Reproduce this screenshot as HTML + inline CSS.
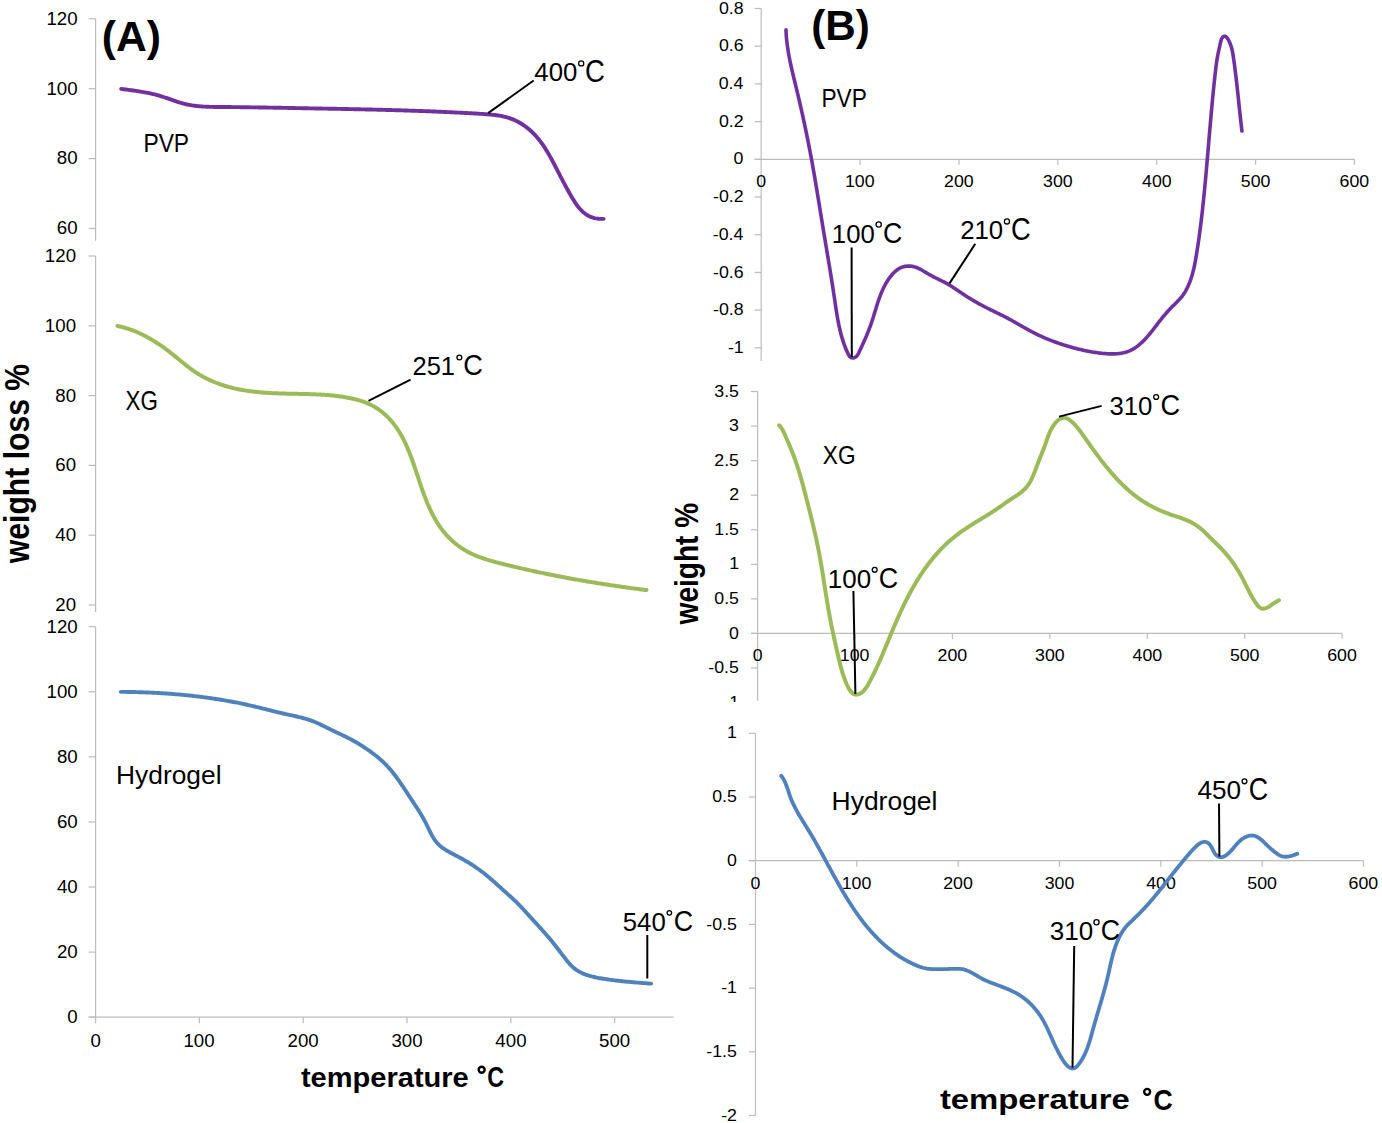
<!DOCTYPE html>
<html><head><meta charset="utf-8"><style>
html,body{margin:0;padding:0;background:#fff;width:1382px;height:1123px;overflow:hidden}
svg{display:block;font-family:"Liberation Sans",sans-serif}
</style></head><body>
<svg width="1382" height="1123" viewBox="0 0 1382 1123">
<defs><clipPath id="clipm1"><rect x="600" y="690" width="200" height="12"/></clipPath></defs>
<rect width="1382" height="1123" fill="#fff"/>
<line x1="95.60" y1="18.80" x2="95.60" y2="240.70" stroke="#BCBCBC" stroke-width="1.20"/>
<line x1="88.60" y1="18.80" x2="95.60" y2="18.80" stroke="#BCBCBC" stroke-width="1.20"/>
<line x1="88.60" y1="88.70" x2="95.60" y2="88.70" stroke="#BCBCBC" stroke-width="1.20"/>
<line x1="88.60" y1="158.60" x2="95.60" y2="158.60" stroke="#BCBCBC" stroke-width="1.20"/>
<line x1="88.60" y1="228.50" x2="95.60" y2="228.50" stroke="#BCBCBC" stroke-width="1.20"/>
<line x1="95.60" y1="256.00" x2="95.60" y2="612.00" stroke="#BCBCBC" stroke-width="1.20"/>
<line x1="88.60" y1="256.00" x2="95.60" y2="256.00" stroke="#BCBCBC" stroke-width="1.20"/>
<line x1="88.60" y1="325.80" x2="95.60" y2="325.80" stroke="#BCBCBC" stroke-width="1.20"/>
<line x1="88.60" y1="395.60" x2="95.60" y2="395.60" stroke="#BCBCBC" stroke-width="1.20"/>
<line x1="88.60" y1="465.40" x2="95.60" y2="465.40" stroke="#BCBCBC" stroke-width="1.20"/>
<line x1="88.60" y1="535.20" x2="95.60" y2="535.20" stroke="#BCBCBC" stroke-width="1.20"/>
<line x1="88.60" y1="605.00" x2="95.60" y2="605.00" stroke="#BCBCBC" stroke-width="1.20"/>
<line x1="95.60" y1="626.70" x2="95.60" y2="1017.20" stroke="#BCBCBC" stroke-width="1.20"/>
<line x1="88.60" y1="626.70" x2="95.60" y2="626.70" stroke="#BCBCBC" stroke-width="1.20"/>
<line x1="88.60" y1="691.78" x2="95.60" y2="691.78" stroke="#BCBCBC" stroke-width="1.20"/>
<line x1="88.60" y1="756.86" x2="95.60" y2="756.86" stroke="#BCBCBC" stroke-width="1.20"/>
<line x1="88.60" y1="821.94" x2="95.60" y2="821.94" stroke="#BCBCBC" stroke-width="1.20"/>
<line x1="88.60" y1="887.02" x2="95.60" y2="887.02" stroke="#BCBCBC" stroke-width="1.20"/>
<line x1="88.60" y1="952.10" x2="95.60" y2="952.10" stroke="#BCBCBC" stroke-width="1.20"/>
<line x1="88.60" y1="1017.18" x2="95.60" y2="1017.18" stroke="#BCBCBC" stroke-width="1.20"/>
<line x1="88.60" y1="1017.20" x2="673.60" y2="1017.20" stroke="#BCBCBC" stroke-width="1.20"/>
<line x1="95.60" y1="1017.20" x2="95.60" y2="1023.20" stroke="#BCBCBC" stroke-width="1.20"/>
<line x1="199.40" y1="1017.20" x2="199.40" y2="1023.20" stroke="#BCBCBC" stroke-width="1.20"/>
<line x1="303.20" y1="1017.20" x2="303.20" y2="1023.20" stroke="#BCBCBC" stroke-width="1.20"/>
<line x1="407.00" y1="1017.20" x2="407.00" y2="1023.20" stroke="#BCBCBC" stroke-width="1.20"/>
<line x1="510.80" y1="1017.20" x2="510.80" y2="1023.20" stroke="#BCBCBC" stroke-width="1.20"/>
<line x1="614.60" y1="1017.20" x2="614.60" y2="1023.20" stroke="#BCBCBC" stroke-width="1.20"/>
<text transform="matrix(1.0500 0 0 1 46.45 24.60)" font-size="17.80" font-weight="normal" fill="#000">120</text>
<text transform="matrix(1.0500 0 0 1 46.45 94.50)" font-size="17.80" font-weight="normal" fill="#000">100</text>
<text transform="matrix(1.0500 0 0 1 56.84 164.40)" font-size="17.80" font-weight="normal" fill="#000">80</text>
<text transform="matrix(1.0500 0 0 1 56.84 234.30)" font-size="17.80" font-weight="normal" fill="#000">60</text>
<text transform="matrix(1.0500 0 0 1 44.85 262.00)" font-size="17.80" font-weight="normal" fill="#000">120</text>
<text transform="matrix(1.0500 0 0 1 44.85 331.80)" font-size="17.80" font-weight="normal" fill="#000">100</text>
<text transform="matrix(1.0500 0 0 1 55.24 401.60)" font-size="17.80" font-weight="normal" fill="#000">80</text>
<text transform="matrix(1.0500 0 0 1 55.24 471.40)" font-size="17.80" font-weight="normal" fill="#000">60</text>
<text transform="matrix(1.0500 0 0 1 55.24 541.20)" font-size="17.80" font-weight="normal" fill="#000">40</text>
<text transform="matrix(1.0500 0 0 1 55.24 611.00)" font-size="17.80" font-weight="normal" fill="#000">20</text>
<text transform="matrix(1.0500 0 0 1 46.55 632.50)" font-size="17.80" font-weight="normal" fill="#000">120</text>
<text transform="matrix(1.0500 0 0 1 46.55 697.58)" font-size="17.80" font-weight="normal" fill="#000">100</text>
<text transform="matrix(1.0500 0 0 1 56.94 762.66)" font-size="17.80" font-weight="normal" fill="#000">80</text>
<text transform="matrix(1.0500 0 0 1 56.94 827.74)" font-size="17.80" font-weight="normal" fill="#000">60</text>
<text transform="matrix(1.0500 0 0 1 56.94 892.82)" font-size="17.80" font-weight="normal" fill="#000">40</text>
<text transform="matrix(1.0500 0 0 1 56.94 957.90)" font-size="17.80" font-weight="normal" fill="#000">20</text>
<text transform="matrix(1.0500 0 0 1 67.34 1022.98)" font-size="17.80" font-weight="normal" fill="#000">0</text>
<text transform="matrix(1.0500 0 0 1 90.40 1047.30)" font-size="17.80" font-weight="normal" fill="#000">0</text>
<text transform="matrix(1.0500 0 0 1 183.46 1047.30)" font-size="17.80" font-weight="normal" fill="#000">100</text>
<text transform="matrix(1.0500 0 0 1 287.50 1047.30)" font-size="17.80" font-weight="normal" fill="#000">200</text>
<text transform="matrix(1.0500 0 0 1 391.42 1047.30)" font-size="17.80" font-weight="normal" fill="#000">300</text>
<text transform="matrix(1.0500 0 0 1 495.36 1047.30)" font-size="17.80" font-weight="normal" fill="#000">400</text>
<text transform="matrix(1.0500 0 0 1 599.00 1047.30)" font-size="17.80" font-weight="normal" fill="#000">500</text>
<line x1="761.20" y1="8.50" x2="761.20" y2="360.90" stroke="#BCBCBC" stroke-width="1.20"/>
<line x1="754.60" y1="8.50" x2="761.20" y2="8.50" stroke="#BCBCBC" stroke-width="1.20"/>
<line x1="754.60" y1="46.20" x2="761.20" y2="46.20" stroke="#BCBCBC" stroke-width="1.20"/>
<line x1="754.60" y1="83.90" x2="761.20" y2="83.90" stroke="#BCBCBC" stroke-width="1.20"/>
<line x1="754.60" y1="121.60" x2="761.20" y2="121.60" stroke="#BCBCBC" stroke-width="1.20"/>
<line x1="754.60" y1="159.30" x2="761.20" y2="159.30" stroke="#BCBCBC" stroke-width="1.20"/>
<line x1="754.60" y1="197.00" x2="761.20" y2="197.00" stroke="#BCBCBC" stroke-width="1.20"/>
<line x1="754.60" y1="234.70" x2="761.20" y2="234.70" stroke="#BCBCBC" stroke-width="1.20"/>
<line x1="754.60" y1="272.40" x2="761.20" y2="272.40" stroke="#BCBCBC" stroke-width="1.20"/>
<line x1="754.60" y1="310.10" x2="761.20" y2="310.10" stroke="#BCBCBC" stroke-width="1.20"/>
<line x1="754.60" y1="347.80" x2="761.20" y2="347.80" stroke="#BCBCBC" stroke-width="1.20"/>
<line x1="754.60" y1="159.30" x2="1354.50" y2="159.30" stroke="#BCBCBC" stroke-width="1.20"/>
<line x1="860.08" y1="159.30" x2="860.08" y2="164.80" stroke="#BCBCBC" stroke-width="1.20"/>
<line x1="958.96" y1="159.30" x2="958.96" y2="164.80" stroke="#BCBCBC" stroke-width="1.20"/>
<line x1="1057.84" y1="159.30" x2="1057.84" y2="164.80" stroke="#BCBCBC" stroke-width="1.20"/>
<line x1="1156.72" y1="159.30" x2="1156.72" y2="164.80" stroke="#BCBCBC" stroke-width="1.20"/>
<line x1="1255.60" y1="159.30" x2="1255.60" y2="164.80" stroke="#BCBCBC" stroke-width="1.20"/>
<line x1="1354.48" y1="159.30" x2="1354.48" y2="164.80" stroke="#BCBCBC" stroke-width="1.20"/>
<line x1="757.60" y1="391.55" x2="757.60" y2="700.70" stroke="#BCBCBC" stroke-width="1.20"/>
<line x1="751.00" y1="391.55" x2="757.60" y2="391.55" stroke="#BCBCBC" stroke-width="1.20"/>
<line x1="751.00" y1="426.10" x2="757.60" y2="426.10" stroke="#BCBCBC" stroke-width="1.20"/>
<line x1="751.00" y1="460.65" x2="757.60" y2="460.65" stroke="#BCBCBC" stroke-width="1.20"/>
<line x1="751.00" y1="495.20" x2="757.60" y2="495.20" stroke="#BCBCBC" stroke-width="1.20"/>
<line x1="751.00" y1="529.75" x2="757.60" y2="529.75" stroke="#BCBCBC" stroke-width="1.20"/>
<line x1="751.00" y1="564.30" x2="757.60" y2="564.30" stroke="#BCBCBC" stroke-width="1.20"/>
<line x1="751.00" y1="598.85" x2="757.60" y2="598.85" stroke="#BCBCBC" stroke-width="1.20"/>
<line x1="751.00" y1="633.40" x2="757.60" y2="633.40" stroke="#BCBCBC" stroke-width="1.20"/>
<line x1="751.00" y1="667.95" x2="757.60" y2="667.95" stroke="#BCBCBC" stroke-width="1.20"/>
<line x1="751.00" y1="633.40" x2="1342.10" y2="633.40" stroke="#BCBCBC" stroke-width="1.20"/>
<line x1="855.02" y1="633.40" x2="855.02" y2="638.80" stroke="#BCBCBC" stroke-width="1.20"/>
<line x1="952.44" y1="633.40" x2="952.44" y2="638.80" stroke="#BCBCBC" stroke-width="1.20"/>
<line x1="1049.86" y1="633.40" x2="1049.86" y2="638.80" stroke="#BCBCBC" stroke-width="1.20"/>
<line x1="1147.28" y1="633.40" x2="1147.28" y2="638.80" stroke="#BCBCBC" stroke-width="1.20"/>
<line x1="1244.70" y1="633.40" x2="1244.70" y2="638.80" stroke="#BCBCBC" stroke-width="1.20"/>
<line x1="1342.12" y1="633.40" x2="1342.12" y2="638.80" stroke="#BCBCBC" stroke-width="1.20"/>
<line x1="755.50" y1="733.30" x2="755.50" y2="1115.50" stroke="#BCBCBC" stroke-width="1.20"/>
<line x1="748.90" y1="733.30" x2="755.50" y2="733.30" stroke="#BCBCBC" stroke-width="1.20"/>
<line x1="748.90" y1="797.00" x2="755.50" y2="797.00" stroke="#BCBCBC" stroke-width="1.20"/>
<line x1="748.90" y1="860.70" x2="755.50" y2="860.70" stroke="#BCBCBC" stroke-width="1.20"/>
<line x1="748.90" y1="924.40" x2="755.50" y2="924.40" stroke="#BCBCBC" stroke-width="1.20"/>
<line x1="748.90" y1="988.10" x2="755.50" y2="988.10" stroke="#BCBCBC" stroke-width="1.20"/>
<line x1="748.90" y1="1051.80" x2="755.50" y2="1051.80" stroke="#BCBCBC" stroke-width="1.20"/>
<line x1="748.90" y1="1115.50" x2="755.50" y2="1115.50" stroke="#BCBCBC" stroke-width="1.20"/>
<line x1="748.90" y1="860.70" x2="1363.50" y2="860.70" stroke="#BCBCBC" stroke-width="1.20"/>
<line x1="856.83" y1="860.70" x2="856.83" y2="866.70" stroke="#BCBCBC" stroke-width="1.20"/>
<line x1="958.16" y1="860.70" x2="958.16" y2="866.70" stroke="#BCBCBC" stroke-width="1.20"/>
<line x1="1059.49" y1="860.70" x2="1059.49" y2="866.70" stroke="#BCBCBC" stroke-width="1.20"/>
<line x1="1160.82" y1="860.70" x2="1160.82" y2="866.70" stroke="#BCBCBC" stroke-width="1.20"/>
<line x1="1262.15" y1="860.70" x2="1262.15" y2="866.70" stroke="#BCBCBC" stroke-width="1.20"/>
<line x1="1363.48" y1="860.70" x2="1363.48" y2="866.70" stroke="#BCBCBC" stroke-width="1.20"/>
<text transform="matrix(1.1100 0 0 1 718.88 13.60)" font-size="16.00" font-weight="normal" fill="#000">0.8</text>
<text transform="matrix(1.1100 0 0 1 718.89 51.30)" font-size="16.00" font-weight="normal" fill="#000">0.6</text>
<text transform="matrix(1.1100 0 0 1 718.63 89.00)" font-size="16.00" font-weight="normal" fill="#000">0.4</text>
<text transform="matrix(1.1100 0 0 1 719.00 126.70)" font-size="16.00" font-weight="normal" fill="#000">0.2</text>
<text transform="matrix(1.1100 0 0 1 733.62 164.40)" font-size="16.00" font-weight="normal" fill="#000">0</text>
<text transform="matrix(1.1100 0 0 1 713.09 202.10)" font-size="16.00" font-weight="normal" fill="#000">-0.2</text>
<text transform="matrix(1.1100 0 0 1 712.72 239.80)" font-size="16.00" font-weight="normal" fill="#000">-0.4</text>
<text transform="matrix(1.1100 0 0 1 712.98 277.50)" font-size="16.00" font-weight="normal" fill="#000">-0.6</text>
<text transform="matrix(1.1100 0 0 1 712.97 315.20)" font-size="16.00" font-weight="normal" fill="#000">-0.8</text>
<text transform="matrix(1.1100 0 0 1 727.88 352.90)" font-size="16.00" font-weight="normal" fill="#000">-1</text>
<text transform="matrix(1.1100 0 0 1 756.26 186.90)" font-size="16.00" font-weight="normal" fill="#000">0</text>
<text transform="matrix(1.1100 0 0 1 844.93 186.90)" font-size="16.00" font-weight="normal" fill="#000">100</text>
<text transform="matrix(1.1100 0 0 1 944.04 186.90)" font-size="16.00" font-weight="normal" fill="#000">200</text>
<text transform="matrix(1.1100 0 0 1 1043.03 186.90)" font-size="16.00" font-weight="normal" fill="#000">300</text>
<text transform="matrix(1.1100 0 0 1 1142.05 186.90)" font-size="16.00" font-weight="normal" fill="#000">400</text>
<text transform="matrix(1.1100 0 0 1 1240.78 186.90)" font-size="16.00" font-weight="normal" fill="#000">500</text>
<text transform="matrix(1.1100 0 0 1 1339.56 186.90)" font-size="16.00" font-weight="normal" fill="#000">600</text>
<text transform="matrix(1.1100 0 0 1 714.26 396.65)" font-size="16.00" font-weight="normal" fill="#000">3.5</text>
<text transform="matrix(1.1100 0 0 1 729.10 431.20)" font-size="16.00" font-weight="normal" fill="#000">3</text>
<text transform="matrix(1.1100 0 0 1 714.26 465.75)" font-size="16.00" font-weight="normal" fill="#000">2.5</text>
<text transform="matrix(1.1100 0 0 1 729.22 500.30)" font-size="16.00" font-weight="normal" fill="#000">2</text>
<text transform="matrix(1.1100 0 0 1 714.26 534.85)" font-size="16.00" font-weight="normal" fill="#000">1.5</text>
<text transform="matrix(1.1100 0 0 1 729.19 569.40)" font-size="16.00" font-weight="normal" fill="#000">1</text>
<text transform="matrix(1.1100 0 0 1 714.26 603.95)" font-size="16.00" font-weight="normal" fill="#000">0.5</text>
<text transform="matrix(1.1100 0 0 1 729.02 638.50)" font-size="16.00" font-weight="normal" fill="#000">0</text>
<text transform="matrix(1.1100 0 0 1 708.34 673.05)" font-size="16.00" font-weight="normal" fill="#000">-0.5</text>
<g clip-path="url(#clipm1)"><text transform="matrix(1.1100 0 0 1 723.28 707.60)" font-size="16.00" font-weight="normal" fill="#000">-1</text></g>
<text transform="matrix(1.1100 0 0 1 752.66 660.90)" font-size="16.00" font-weight="normal" fill="#000">0</text>
<text transform="matrix(1.1100 0 0 1 839.87 660.90)" font-size="16.00" font-weight="normal" fill="#000">100</text>
<text transform="matrix(1.1100 0 0 1 937.52 660.90)" font-size="16.00" font-weight="normal" fill="#000">200</text>
<text transform="matrix(1.1100 0 0 1 1035.05 660.90)" font-size="16.00" font-weight="normal" fill="#000">300</text>
<text transform="matrix(1.1100 0 0 1 1132.61 660.90)" font-size="16.00" font-weight="normal" fill="#000">400</text>
<text transform="matrix(1.1100 0 0 1 1229.88 660.90)" font-size="16.00" font-weight="normal" fill="#000">500</text>
<text transform="matrix(1.1100 0 0 1 1327.20 660.90)" font-size="16.00" font-weight="normal" fill="#000">600</text>
<text transform="matrix(1.1100 0 0 1 727.09 738.40)" font-size="16.00" font-weight="normal" fill="#000">1</text>
<text transform="matrix(1.1100 0 0 1 712.16 802.10)" font-size="16.00" font-weight="normal" fill="#000">0.5</text>
<text transform="matrix(1.1100 0 0 1 726.92 865.80)" font-size="16.00" font-weight="normal" fill="#000">0</text>
<text transform="matrix(1.1100 0 0 1 706.24 929.50)" font-size="16.00" font-weight="normal" fill="#000">-0.5</text>
<text transform="matrix(1.1100 0 0 1 721.18 993.20)" font-size="16.00" font-weight="normal" fill="#000">-1</text>
<text transform="matrix(1.1100 0 0 1 706.24 1056.90)" font-size="16.00" font-weight="normal" fill="#000">-1.5</text>
<text transform="matrix(1.1100 0 0 1 721.20 1120.60)" font-size="16.00" font-weight="normal" fill="#000">-2</text>
<text transform="matrix(1.1100 0 0 1 750.56 888.50)" font-size="16.00" font-weight="normal" fill="#000">0</text>
<text transform="matrix(1.1100 0 0 1 841.68 888.50)" font-size="16.00" font-weight="normal" fill="#000">100</text>
<text transform="matrix(1.1100 0 0 1 943.24 888.50)" font-size="16.00" font-weight="normal" fill="#000">200</text>
<text transform="matrix(1.1100 0 0 1 1044.68 888.50)" font-size="16.00" font-weight="normal" fill="#000">300</text>
<text transform="matrix(1.1100 0 0 1 1146.15 888.50)" font-size="16.00" font-weight="normal" fill="#000">400</text>
<text transform="matrix(1.1100 0 0 1 1247.33 888.50)" font-size="16.00" font-weight="normal" fill="#000">500</text>
<text transform="matrix(1.1100 0 0 1 1348.56 888.50)" font-size="16.00" font-weight="normal" fill="#000">600</text>
<path d="M121.18 88.88 L122.66 89.09 L124.15 89.29 L125.63 89.49 L127.11 89.69 L128.59 89.88 L130.07 90.08 L131.55 90.28 L133.02 90.48 L134.50 90.69 L135.97 90.90 L137.44 91.11 L138.90 91.33 L140.37 91.56 L141.83 91.80 L143.29 92.05 L144.75 92.30 L146.21 92.57 L147.66 92.85 L149.11 93.15 L150.55 93.45 L152.00 93.78 L153.44 94.12 L154.88 94.48 L156.31 94.85 L157.74 95.25 L159.17 95.66 L160.59 96.10 L162.02 96.55 L163.44 97.01 L164.85 97.49 L166.27 97.97 L167.68 98.46 L169.10 98.96 L170.51 99.45 L171.93 99.95 L173.34 100.44 L174.76 100.92 L176.17 101.40 L177.59 101.86 L179.01 102.31 L180.44 102.75 L181.86 103.16 L183.29 103.55 L184.73 103.92 L186.17 104.26 L187.61 104.58 L189.06 104.87 L190.51 105.13 L191.96 105.37 L193.42 105.59 L194.88 105.79 L196.35 105.96 L197.81 106.12 L199.28 106.26 L200.76 106.38 L202.23 106.49 L203.71 106.58 L205.19 106.66 L206.67 106.73 L208.16 106.79 L209.64 106.83 L211.13 106.87 L212.62 106.90 L214.10 106.93 L215.59 106.95 L217.08 106.96 L218.57 106.98 L220.07 106.99 L221.56 107.00 L223.05 107.01 L224.54 107.02 L226.03 107.03 L227.52 107.05 L229.01 107.06 L230.50 107.07 L231.99 107.09 L233.48 107.10 L234.97 107.12 L236.46 107.14 L237.95 107.15 L239.44 107.17 L240.93 107.19 L242.42 107.21 L243.91 107.23 L245.40 107.25 L246.88 107.27 L248.37 107.29 L249.86 107.31 L251.35 107.33 L252.84 107.35 L254.33 107.37 L255.82 107.39 L257.31 107.41 L258.79 107.44 L260.28 107.46 L261.77 107.48 L263.26 107.51 L264.74 107.53 L266.23 107.56 L267.72 107.58 L269.21 107.61 L270.69 107.63 L272.18 107.66 L273.67 107.68 L275.16 107.71 L276.64 107.73 L278.13 107.76 L279.62 107.79 L281.10 107.81 L282.59 107.84 L284.08 107.87 L285.56 107.89 L287.05 107.92 L288.54 107.95 L290.02 107.97 L291.51 108.00 L292.99 108.03 L294.48 108.06 L295.97 108.08 L297.45 108.11 L298.94 108.14 L300.42 108.17 L301.91 108.19 L303.39 108.22 L304.88 108.25 L306.36 108.28 L307.85 108.30 L309.33 108.33 L310.82 108.36 L312.30 108.39 L313.79 108.41 L315.27 108.44 L316.76 108.47 L318.24 108.49 L319.73 108.52 L321.21 108.55 L322.69 108.58 L324.18 108.60 L325.66 108.63 L327.15 108.66 L328.63 108.69 L330.11 108.71 L331.60 108.74 L333.08 108.77 L334.57 108.80 L336.05 108.82 L337.53 108.85 L339.02 108.88 L340.50 108.91 L341.99 108.94 L343.47 108.97 L344.95 109.00 L346.44 109.03 L347.92 109.06 L349.40 109.09 L350.89 109.12 L352.37 109.15 L353.85 109.18 L355.34 109.21 L356.82 109.24 L358.31 109.27 L359.79 109.30 L361.27 109.33 L362.76 109.37 L364.24 109.40 L365.72 109.43 L367.21 109.46 L368.69 109.50 L370.17 109.53 L371.66 109.57 L373.14 109.60 L374.63 109.64 L376.11 109.67 L377.59 109.71 L379.08 109.74 L380.56 109.78 L382.05 109.82 L383.53 109.86 L385.01 109.90 L386.50 109.93 L387.98 109.97 L389.47 110.01 L390.95 110.05 L392.44 110.09 L393.92 110.14 L395.40 110.18 L396.89 110.22 L398.37 110.26 L399.86 110.31 L401.34 110.35 L402.83 110.40 L404.31 110.44 L405.80 110.49 L407.28 110.54 L408.77 110.58 L410.25 110.63 L411.74 110.68 L413.23 110.73 L414.71 110.78 L416.20 110.83 L417.68 110.88 L419.17 110.93 L420.65 110.99 L422.14 111.04 L423.63 111.10 L425.11 111.15 L426.60 111.21 L428.09 111.26 L429.57 111.32 L431.06 111.38 L432.55 111.44 L434.04 111.50 L435.52 111.56 L437.01 111.62 L438.50 111.68 L439.99 111.75 L441.47 111.81 L442.96 111.88 L444.45 111.94 L445.94 112.01 L447.43 112.08 L448.92 112.15 L450.40 112.22 L451.89 112.29 L453.38 112.36 L454.87 112.43 L456.36 112.51 L457.85 112.58 L459.34 112.66 L460.83 112.73 L462.32 112.81 L463.81 112.89 L465.30 112.97 L466.80 113.05 L468.29 113.13 L469.78 113.22 L471.27 113.30 L472.76 113.39 L474.25 113.47 L475.75 113.56 L477.24 113.65 L478.73 113.74 L480.22 113.83 L481.72 113.92 L483.21 114.02 L484.70 114.11 L486.19 114.22 L487.68 114.33 L489.17 114.45 L490.66 114.58 L492.14 114.72 L493.61 114.87 L495.09 115.05 L496.55 115.24 L498.02 115.45 L499.47 115.69 L500.92 115.94 L502.36 116.23 L503.79 116.54 L505.21 116.88 L506.63 117.25 L508.03 117.66 L509.43 118.10 L510.81 118.57 L512.18 119.09 L513.54 119.64 L514.88 120.24 L516.22 120.87 L517.53 121.54 L518.84 122.24 L520.12 122.98 L521.40 123.75 L522.65 124.55 L523.89 125.39 L525.10 126.25 L526.30 127.15 L527.49 128.07 L528.65 129.02 L529.79 129.99 L530.90 130.99 L532.00 132.01 L533.07 133.05 L534.12 134.12 L535.15 135.20 L536.15 136.30 L537.13 137.42 L538.09 138.56 L539.03 139.72 L539.95 140.89 L540.84 142.07 L541.72 143.27 L542.58 144.49 L543.43 145.71 L544.26 146.95 L545.07 148.19 L545.87 149.45 L546.65 150.72 L547.42 151.99 L548.18 153.28 L548.93 154.57 L549.67 155.86 L550.40 157.16 L551.12 158.47 L551.83 159.77 L552.54 161.08 L553.24 162.40 L553.93 163.71 L554.62 165.02 L555.31 166.34 L555.99 167.65 L556.67 168.96 L557.35 170.28 L558.03 171.59 L558.70 172.90 L559.38 174.22 L560.05 175.53 L560.73 176.84 L561.41 178.15 L562.09 179.46 L562.77 180.77 L563.46 182.08 L564.15 183.39 L564.84 184.70 L565.54 186.01 L566.25 187.32 L566.96 188.62 L567.68 189.93 L568.40 191.23 L569.14 192.53 L569.88 193.83 L570.63 195.13 L571.39 196.43 L572.17 197.73 L572.95 199.02 L573.75 200.31 L574.56 201.59 L575.39 202.85 L576.24 204.09 L577.12 205.31 L578.02 206.50 L578.95 207.66 L579.90 208.78 L580.89 209.87 L581.91 210.91 L582.97 211.90 L584.06 212.84 L585.19 213.73 L586.37 214.56 L587.59 215.32 L588.86 216.01 L590.18 216.64 L591.54 217.19 L592.95 217.66 L594.40 218.06 L595.88 218.38 L597.39 218.63 L598.92 218.79 L600.47 218.88 L602.04 218.90 L603.61 218.83" fill="none" stroke="#7030A0" stroke-width="3.90" stroke-linecap="round" stroke-linejoin="round"/>
<path d="M117.40 325.91 L118.73 326.20 L120.04 326.50 L121.35 326.83 L122.65 327.17 L123.95 327.52 L125.23 327.90 L126.51 328.29 L127.78 328.69 L129.05 329.11 L130.31 329.55 L131.56 330.00 L132.80 330.46 L134.04 330.94 L135.27 331.44 L136.49 331.95 L137.70 332.47 L138.91 333.00 L140.12 333.55 L141.31 334.11 L142.50 334.69 L143.69 335.28 L144.86 335.88 L146.03 336.49 L147.20 337.11 L148.36 337.75 L149.51 338.39 L150.66 339.05 L151.80 339.72 L152.93 340.40 L154.06 341.09 L155.18 341.79 L156.30 342.50 L157.41 343.22 L158.52 343.95 L159.62 344.68 L160.71 345.43 L161.80 346.18 L162.89 346.95 L163.97 347.72 L165.04 348.50 L166.11 349.29 L167.17 350.08 L168.23 350.88 L169.29 351.69 L170.33 352.51 L171.38 353.33 L172.42 354.16 L173.45 354.99 L174.49 355.83 L175.52 356.66 L176.55 357.51 L177.57 358.35 L178.60 359.20 L179.62 360.04 L180.65 360.88 L181.68 361.73 L182.71 362.56 L183.74 363.40 L184.77 364.23 L185.81 365.06 L186.86 365.88 L187.90 366.69 L188.96 367.49 L190.02 368.29 L191.08 369.07 L192.16 369.85 L193.24 370.61 L194.33 371.37 L195.43 372.11 L196.54 372.83 L197.66 373.54 L198.79 374.24 L199.92 374.92 L201.07 375.59 L202.23 376.25 L203.39 376.89 L204.57 377.51 L205.75 378.12 L206.93 378.72 L208.13 379.31 L209.33 379.87 L210.54 380.43 L211.75 380.97 L212.97 381.50 L214.20 382.01 L215.43 382.51 L216.67 383.00 L217.91 383.47 L219.15 383.92 L220.40 384.37 L221.65 384.80 L222.90 385.21 L224.16 385.62 L225.42 386.00 L226.69 386.38 L227.95 386.74 L229.22 387.09 L230.50 387.43 L231.77 387.76 L233.05 388.07 L234.33 388.37 L235.61 388.66 L236.90 388.94 L238.19 389.21 L239.48 389.47 L240.77 389.71 L242.07 389.95 L243.37 390.18 L244.67 390.39 L245.97 390.60 L247.27 390.80 L248.58 390.99 L249.88 391.17 L251.19 391.34 L252.51 391.51 L253.82 391.66 L255.13 391.81 L256.45 391.95 L257.77 392.08 L259.09 392.21 L260.41 392.33 L261.73 392.44 L263.05 392.55 L264.38 392.65 L265.70 392.74 L267.03 392.83 L268.36 392.91 L269.69 392.99 L271.02 393.06 L272.35 393.13 L273.68 393.20 L275.01 393.26 L276.34 393.31 L277.68 393.36 L279.01 393.41 L280.34 393.46 L281.68 393.50 L283.01 393.54 L284.35 393.58 L285.69 393.62 L287.02 393.65 L288.36 393.68 L289.69 393.71 L291.03 393.74 L292.37 393.77 L293.70 393.80 L295.04 393.82 L296.37 393.85 L297.71 393.87 L299.04 393.90 L300.38 393.93 L301.71 393.96 L303.04 393.98 L304.37 394.01 L305.71 394.05 L307.04 394.08 L308.37 394.11 L309.70 394.15 L311.03 394.19 L312.35 394.24 L313.68 394.28 L315.01 394.33 L316.33 394.39 L317.66 394.45 L318.98 394.51 L320.31 394.58 L321.63 394.65 L322.95 394.73 L324.27 394.82 L325.59 394.91 L326.90 395.01 L328.22 395.11 L329.53 395.22 L330.85 395.34 L332.16 395.47 L333.47 395.60 L334.78 395.75 L336.09 395.90 L337.40 396.06 L338.71 396.23 L340.01 396.41 L341.31 396.59 L342.62 396.79 L343.92 397.00 L345.21 397.22 L346.51 397.45 L347.81 397.70 L349.10 397.95 L350.39 398.22 L351.68 398.50 L352.97 398.79 L354.26 399.09 L355.55 399.41 L356.83 399.74 L358.11 400.09 L359.38 400.45 L360.65 400.84 L361.92 401.24 L363.18 401.66 L364.43 402.11 L365.67 402.57 L366.90 403.06 L368.13 403.58 L369.34 404.13 L370.54 404.70 L371.73 405.30 L372.91 405.93 L374.07 406.58 L375.22 407.26 L376.36 407.97 L377.48 408.70 L378.58 409.46 L379.67 410.23 L380.75 411.03 L381.80 411.85 L382.84 412.69 L383.86 413.55 L384.86 414.43 L385.85 415.33 L386.81 416.24 L387.75 417.16 L388.68 418.10 L389.58 419.06 L390.47 420.03 L391.33 421.02 L392.18 422.02 L393.01 423.03 L393.82 424.05 L394.61 425.09 L395.39 426.14 L396.15 427.20 L396.90 428.28 L397.63 429.36 L398.34 430.46 L399.04 431.56 L399.72 432.68 L400.39 433.81 L401.05 434.94 L401.69 436.09 L402.32 437.25 L402.94 438.41 L403.55 439.58 L404.14 440.76 L404.72 441.95 L405.29 443.14 L405.85 444.35 L406.40 445.56 L406.94 446.77 L407.47 447.99 L407.99 449.22 L408.51 450.45 L409.01 451.69 L409.51 452.93 L409.99 454.17 L410.48 455.42 L410.95 456.68 L411.42 457.93 L411.88 459.19 L412.34 460.46 L412.79 461.72 L413.23 462.99 L413.68 464.26 L414.11 465.53 L414.55 466.80 L414.98 468.07 L415.40 469.34 L415.83 470.61 L416.25 471.88 L416.67 473.15 L417.09 474.42 L417.51 475.69 L417.93 476.95 L418.35 478.22 L418.76 479.48 L419.18 480.74 L419.60 481.99 L420.02 483.25 L420.44 484.50 L420.87 485.74 L421.30 486.99 L421.73 488.23 L422.16 489.47 L422.60 490.71 L423.04 491.94 L423.49 493.18 L423.94 494.41 L424.40 495.63 L424.87 496.86 L425.34 498.08 L425.82 499.30 L426.30 500.52 L426.80 501.74 L427.30 502.95 L427.81 504.17 L428.33 505.38 L428.86 506.59 L429.40 507.79 L429.95 509.00 L430.52 510.20 L431.09 511.40 L431.67 512.59 L432.27 513.78 L432.88 514.97 L433.50 516.14 L434.13 517.32 L434.78 518.48 L435.44 519.64 L436.11 520.79 L436.80 521.93 L437.50 523.07 L438.22 524.19 L438.95 525.30 L439.70 526.40 L440.46 527.50 L441.24 528.58 L442.03 529.64 L442.84 530.70 L443.67 531.74 L444.51 532.77 L445.38 533.78 L446.25 534.78 L447.15 535.76 L448.06 536.73 L448.99 537.68 L449.93 538.62 L450.89 539.54 L451.86 540.44 L452.85 541.33 L453.85 542.20 L454.86 543.06 L455.89 543.90 L456.94 544.72 L457.99 545.52 L459.06 546.30 L460.14 547.07 L461.23 547.82 L462.33 548.55 L463.45 549.26 L464.57 549.95 L465.71 550.63 L466.85 551.28 L468.01 551.91 L469.17 552.53 L470.34 553.12 L471.53 553.70 L472.72 554.26 L473.92 554.80 L475.12 555.33 L476.34 555.84 L477.56 556.33 L478.79 556.81 L480.02 557.27 L481.26 557.73 L482.51 558.17 L483.76 558.59 L485.01 559.01 L486.27 559.41 L487.54 559.81 L488.81 560.19 L490.08 560.57 L491.36 560.94 L492.64 561.30 L493.92 561.65 L495.21 562.00 L496.50 562.34 L497.78 562.68 L499.07 563.01 L500.37 563.34 L501.66 563.67 L502.95 563.99 L504.24 564.31 L505.54 564.63 L506.83 564.95 L508.12 565.26 L509.42 565.58 L510.71 565.89 L512.00 566.20 L513.30 566.51 L514.59 566.82 L515.89 567.12 L517.18 567.43 L518.47 567.73 L519.77 568.03 L521.06 568.33 L522.36 568.62 L523.65 568.92 L524.95 569.21 L526.24 569.50 L527.54 569.79 L528.83 570.08 L530.13 570.37 L531.42 570.65 L532.72 570.94 L534.02 571.22 L535.31 571.50 L536.61 571.78 L537.91 572.05 L539.20 572.33 L540.50 572.60 L541.80 572.87 L543.09 573.15 L544.39 573.41 L545.69 573.68 L546.99 573.95 L548.28 574.21 L549.58 574.47 L550.88 574.74 L552.18 575.00 L553.48 575.25 L554.78 575.51 L556.08 575.76 L557.38 576.02 L558.68 576.27 L559.98 576.52 L561.28 576.77 L562.58 577.02 L563.88 577.26 L565.18 577.51 L566.48 577.75 L567.78 577.99 L569.08 578.23 L570.39 578.47 L571.69 578.71 L572.99 578.95 L574.29 579.18 L575.60 579.41 L576.90 579.64 L578.20 579.87 L579.51 580.10 L580.81 580.33 L582.12 580.56 L583.42 580.78 L584.73 581.00 L586.03 581.23 L587.34 581.45 L588.64 581.67 L589.95 581.88 L591.26 582.10 L592.56 582.32 L593.87 582.53 L595.18 582.74 L596.49 582.95 L597.79 583.16 L599.10 583.37 L600.41 583.58 L601.72 583.79 L603.03 583.99 L604.34 584.19 L605.65 584.40 L606.96 584.60 L608.27 584.80 L609.58 585.00 L610.90 585.19 L612.21 585.39 L613.52 585.58 L614.83 585.78 L616.15 585.97 L617.46 586.16 L618.78 586.35 L620.09 586.54 L621.40 586.73 L622.72 586.91 L624.04 587.10 L625.35 587.28 L626.67 587.47 L627.99 587.65 L629.30 587.83 L630.62 588.01 L631.94 588.19 L633.26 588.36 L634.58 588.54 L635.90 588.71 L637.22 588.89 L638.54 589.06 L639.86 589.23 L641.18 589.40 L642.50 589.57 L643.82 589.74 L645.14 589.91 L646.47 590.08" fill="none" stroke="#9BBB59" stroke-width="4.00" stroke-linecap="round" stroke-linejoin="round"/>
<path d="M120.79 691.86 L122.06 691.87 L123.33 691.88 L124.60 691.89 L125.88 691.91 L127.15 691.93 L128.42 691.94 L129.70 691.97 L130.97 691.99 L132.24 692.02 L133.51 692.04 L134.79 692.07 L136.06 692.11 L137.33 692.14 L138.60 692.18 L139.88 692.21 L141.15 692.26 L142.42 692.30 L143.69 692.34 L144.97 692.39 L146.24 692.44 L147.51 692.49 L148.78 692.54 L150.05 692.60 L151.33 692.66 L152.60 692.72 L153.87 692.78 L155.14 692.85 L156.41 692.91 L157.68 692.98 L158.95 693.05 L160.22 693.13 L161.50 693.21 L162.77 693.28 L164.04 693.37 L165.31 693.45 L166.58 693.54 L167.85 693.63 L169.12 693.72 L170.38 693.81 L171.65 693.91 L172.92 694.01 L174.19 694.11 L175.46 694.21 L176.73 694.32 L177.99 694.43 L179.26 694.54 L180.53 694.65 L181.80 694.77 L183.06 694.89 L184.33 695.01 L185.59 695.13 L186.86 695.26 L188.13 695.39 L189.39 695.52 L190.66 695.66 L191.92 695.80 L193.18 695.94 L194.45 696.08 L195.71 696.23 L196.97 696.38 L198.24 696.53 L199.50 696.68 L200.76 696.84 L202.02 697.00 L203.28 697.16 L204.54 697.33 L205.80 697.50 L207.06 697.67 L208.32 697.84 L209.58 698.02 L210.84 698.20 L212.10 698.39 L213.36 698.57 L214.61 698.76 L215.87 698.95 L217.13 699.15 L218.38 699.35 L219.64 699.55 L220.89 699.75 L222.15 699.96 L223.40 700.17 L224.65 700.39 L225.91 700.60 L227.16 700.82 L228.41 701.05 L229.66 701.27 L230.91 701.50 L232.16 701.74 L233.41 701.97 L234.66 702.21 L235.91 702.45 L237.16 702.70 L238.40 702.95 L239.65 703.20 L240.90 703.45 L242.14 703.71 L243.39 703.98 L244.63 704.24 L245.87 704.51 L247.12 704.78 L248.36 705.06 L249.60 705.34 L250.84 705.62 L252.08 705.90 L253.32 706.19 L254.56 706.49 L255.80 706.78 L257.04 707.08 L258.27 707.38 L259.51 707.68 L260.75 707.99 L261.98 708.30 L263.22 708.61 L264.45 708.92 L265.69 709.23 L266.93 709.54 L268.16 709.85 L269.40 710.16 L270.63 710.47 L271.87 710.78 L273.11 711.09 L274.34 711.40 L275.58 711.70 L276.82 712.01 L278.06 712.31 L279.30 712.61 L280.54 712.90 L281.78 713.20 L283.02 713.49 L284.26 713.77 L285.50 714.05 L286.75 714.33 L287.99 714.60 L289.24 714.87 L290.49 715.14 L291.73 715.41 L292.98 715.68 L294.22 715.95 L295.46 716.23 L296.71 716.51 L297.94 716.79 L299.18 717.09 L300.41 717.39 L301.64 717.70 L302.87 718.01 L304.09 718.35 L305.31 718.69 L306.53 719.05 L307.73 719.42 L308.94 719.80 L310.14 720.21 L311.33 720.63 L312.51 721.08 L313.69 721.54 L314.86 722.01 L316.03 722.51 L317.20 723.02 L318.35 723.54 L319.51 724.07 L320.66 724.61 L321.81 725.16 L322.96 725.71 L324.10 726.27 L325.25 726.84 L326.39 727.41 L327.53 727.98 L328.67 728.55 L329.82 729.11 L330.96 729.68 L332.11 730.23 L333.25 730.79 L334.40 731.34 L335.55 731.89 L336.70 732.43 L337.85 732.97 L339.00 733.52 L340.15 734.06 L341.29 734.61 L342.44 735.16 L343.58 735.71 L344.73 736.26 L345.87 736.82 L347.00 737.39 L348.14 737.96 L349.27 738.54 L350.39 739.12 L351.51 739.72 L352.63 740.32 L353.74 740.94 L354.85 741.56 L355.96 742.20 L357.05 742.84 L358.15 743.49 L359.24 744.15 L360.32 744.82 L361.40 745.50 L362.48 746.18 L363.55 746.88 L364.61 747.58 L365.67 748.29 L366.73 749.01 L367.77 749.73 L368.82 750.46 L369.86 751.20 L370.89 751.94 L371.92 752.70 L372.94 753.45 L373.96 754.22 L374.97 755.00 L375.97 755.78 L376.96 756.58 L377.95 757.38 L378.92 758.19 L379.89 759.02 L380.84 759.85 L381.79 760.70 L382.72 761.55 L383.64 762.42 L384.55 763.30 L385.45 764.20 L386.33 765.10 L387.20 766.02 L388.06 766.95 L388.91 767.89 L389.74 768.85 L390.57 769.81 L391.39 770.78 L392.19 771.76 L392.99 772.75 L393.78 773.75 L394.56 774.76 L395.33 775.77 L396.09 776.79 L396.85 777.82 L397.60 778.86 L398.34 779.89 L399.08 780.94 L399.81 781.99 L400.54 783.04 L401.26 784.10 L401.98 785.16 L402.69 786.22 L403.40 787.28 L404.11 788.35 L404.81 789.42 L405.51 790.48 L406.21 791.55 L406.91 792.62 L407.61 793.69 L408.31 794.75 L409.00 795.82 L409.70 796.88 L410.40 797.94 L411.10 799.00 L411.80 800.06 L412.50 801.11 L413.19 802.16 L413.89 803.22 L414.59 804.27 L415.28 805.32 L415.97 806.38 L416.66 807.43 L417.34 808.49 L418.02 809.55 L418.70 810.62 L419.37 811.69 L420.03 812.77 L420.69 813.85 L421.34 814.93 L421.99 816.03 L422.63 817.13 L423.25 818.24 L423.87 819.35 L424.48 820.48 L425.08 821.61 L425.67 822.76 L426.25 823.91 L426.83 825.08 L427.39 826.25 L427.96 827.42 L428.52 828.59 L429.08 829.77 L429.65 830.93 L430.23 832.09 L430.82 833.24 L431.41 834.38 L432.03 835.51 L432.66 836.61 L433.31 837.70 L433.99 838.77 L434.68 839.81 L435.41 840.82 L436.17 841.80 L436.96 842.75 L437.79 843.67 L438.65 844.55 L439.55 845.39 L440.48 846.20 L441.44 846.99 L442.43 847.74 L443.45 848.47 L444.49 849.17 L445.55 849.86 L446.63 850.52 L447.73 851.17 L448.84 851.80 L449.96 852.42 L451.10 853.03 L452.24 853.63 L453.39 854.23 L454.54 854.82 L455.69 855.42 L456.84 856.01 L457.98 856.61 L459.12 857.21 L460.25 857.82 L461.38 858.43 L462.50 859.06 L463.61 859.68 L464.72 860.32 L465.82 860.96 L466.91 861.61 L468.00 862.26 L469.08 862.93 L470.15 863.60 L471.22 864.27 L472.29 864.96 L473.34 865.65 L474.39 866.35 L475.44 867.06 L476.48 867.77 L477.51 868.50 L478.54 869.23 L479.56 869.97 L480.58 870.72 L481.59 871.48 L482.60 872.25 L483.60 873.02 L484.59 873.81 L485.58 874.60 L486.57 875.40 L487.55 876.21 L488.52 877.02 L489.50 877.85 L490.47 878.67 L491.43 879.51 L492.39 880.35 L493.35 881.19 L494.31 882.03 L495.26 882.88 L496.22 883.74 L497.17 884.59 L498.12 885.45 L499.06 886.31 L500.01 887.17 L500.96 888.03 L501.90 888.89 L502.85 889.75 L503.79 890.60 L504.74 891.46 L505.69 892.32 L506.63 893.17 L507.58 894.02 L508.53 894.86 L509.48 895.71 L510.43 896.55 L511.37 897.40 L512.31 898.25 L513.25 899.11 L514.18 899.97 L515.10 900.84 L516.01 901.72 L516.91 902.61 L517.81 903.51 L518.69 904.42 L519.57 905.33 L520.44 906.26 L521.31 907.19 L522.17 908.12 L523.03 909.05 L523.89 909.99 L524.75 910.93 L525.61 911.87 L526.46 912.82 L527.32 913.75 L528.18 914.69 L529.04 915.63 L529.90 916.57 L530.76 917.51 L531.62 918.44 L532.48 919.38 L533.34 920.32 L534.20 921.26 L535.06 922.19 L535.92 923.13 L536.78 924.07 L537.63 925.01 L538.49 925.95 L539.34 926.90 L540.19 927.84 L541.04 928.79 L541.89 929.73 L542.74 930.68 L543.58 931.63 L544.42 932.59 L545.26 933.54 L546.09 934.50 L546.93 935.46 L547.75 936.43 L548.58 937.39 L549.40 938.36 L550.22 939.34 L551.03 940.31 L551.84 941.29 L552.65 942.28 L553.45 943.26 L554.24 944.26 L555.03 945.25 L555.82 946.25 L556.60 947.26 L557.38 948.26 L558.16 949.27 L558.93 950.29 L559.71 951.30 L560.48 952.32 L561.25 953.34 L562.03 954.36 L562.81 955.38 L563.59 956.39 L564.37 957.41 L565.16 958.43 L565.95 959.45 L566.75 960.46 L567.57 961.46 L568.39 962.45 L569.22 963.42 L570.08 964.37 L570.95 965.30 L571.84 966.20 L572.76 967.06 L573.70 967.88 L574.67 968.66 L575.66 969.41 L576.68 970.11 L577.72 970.78 L578.79 971.41 L579.87 972.01 L580.98 972.58 L582.10 973.11 L583.25 973.62 L584.41 974.09 L585.58 974.54 L586.77 974.96 L587.97 975.36 L589.19 975.73 L590.42 976.08 L591.65 976.42 L592.90 976.73 L594.15 977.02 L595.41 977.30 L596.67 977.57 L597.94 977.82 L599.21 978.05 L600.48 978.28 L601.76 978.50 L603.03 978.71 L604.30 978.91 L605.57 979.11 L606.84 979.30 L608.10 979.48 L609.37 979.66 L610.63 979.84 L611.90 980.01 L613.16 980.17 L614.42 980.33 L615.68 980.48 L616.94 980.63 L618.19 980.78 L619.45 980.92 L620.71 981.06 L621.97 981.19 L623.23 981.32 L624.48 981.45 L625.74 981.57 L627.00 981.70 L628.26 981.81 L629.52 981.93 L630.78 982.04 L632.04 982.15 L633.30 982.26 L634.57 982.37 L635.83 982.47 L637.10 982.58 L638.36 982.68 L639.63 982.78 L640.91 982.88 L642.18 982.98 L643.45 983.08 L644.73 983.17 L646.01 983.27 L647.29 983.37 L648.58 983.47 L649.87 983.57 L651.16 983.66" fill="none" stroke="#4F81BD" stroke-width="3.90" stroke-linecap="round" stroke-linejoin="round"/>
<path d="M786.00 29.79 L786.04 31.15 L786.10 32.50 L786.18 33.85 L786.26 35.20 L786.36 36.55 L786.48 37.90 L786.60 39.24 L786.73 40.58 L786.88 41.92 L787.04 43.26 L787.20 44.60 L787.38 45.93 L787.57 47.27 L787.76 48.60 L787.97 49.93 L788.18 51.26 L788.40 52.59 L788.63 53.91 L788.87 55.24 L789.12 56.56 L789.37 57.89 L789.63 59.21 L789.89 60.53 L790.16 61.85 L790.44 63.17 L790.72 64.49 L791.01 65.81 L791.30 67.12 L791.60 68.44 L791.90 69.76 L792.20 71.07 L792.51 72.39 L792.82 73.70 L793.13 75.02 L793.44 76.33 L793.76 77.64 L794.08 78.96 L794.40 80.27 L794.71 81.58 L795.03 82.89 L795.36 84.21 L795.68 85.52 L795.99 86.83 L796.31 88.14 L796.63 89.46 L796.95 90.77 L797.26 92.08 L797.58 93.40 L797.89 94.71 L798.20 96.02 L798.51 97.34 L798.82 98.65 L799.12 99.97 L799.43 101.28 L799.73 102.60 L800.03 103.91 L800.34 105.23 L800.64 106.54 L800.93 107.86 L801.23 109.18 L801.53 110.49 L801.82 111.81 L802.12 113.13 L802.41 114.44 L802.70 115.76 L802.99 117.08 L803.27 118.40 L803.56 119.71 L803.85 121.03 L804.13 122.35 L804.41 123.67 L804.69 124.99 L804.97 126.31 L805.25 127.63 L805.53 128.95 L805.80 130.27 L806.08 131.59 L806.35 132.91 L806.62 134.23 L806.89 135.55 L807.16 136.87 L807.43 138.19 L807.69 139.52 L807.96 140.84 L808.22 142.16 L808.48 143.48 L808.74 144.81 L809.00 146.13 L809.26 147.45 L809.52 148.78 L809.77 150.10 L810.02 151.43 L810.28 152.75 L810.53 154.08 L810.77 155.40 L811.02 156.73 L811.27 158.06 L811.51 159.38 L811.76 160.71 L812.00 162.04 L812.24 163.36 L812.48 164.69 L812.72 166.02 L812.96 167.35 L813.19 168.68 L813.43 170.01 L813.66 171.34 L813.89 172.67 L814.12 174.00 L814.35 175.33 L814.58 176.66 L814.81 177.99 L815.04 179.32 L815.27 180.65 L815.49 181.98 L815.72 183.31 L815.94 184.64 L816.17 185.97 L816.39 187.30 L816.61 188.64 L816.83 189.97 L817.05 191.30 L817.27 192.63 L817.49 193.96 L817.71 195.30 L817.93 196.63 L818.15 197.96 L818.37 199.29 L818.59 200.63 L818.80 201.96 L819.02 203.29 L819.24 204.62 L819.46 205.96 L819.67 207.29 L819.89 208.62 L820.11 209.95 L820.32 211.29 L820.54 212.62 L820.75 213.95 L820.97 215.28 L821.19 216.61 L821.40 217.95 L821.62 219.28 L821.84 220.61 L822.05 221.94 L822.27 223.27 L822.49 224.60 L822.71 225.94 L822.93 227.27 L823.14 228.60 L823.36 229.93 L823.58 231.26 L823.80 232.59 L824.02 233.92 L824.24 235.25 L824.47 236.58 L824.69 237.91 L824.91 239.24 L825.13 240.57 L825.35 241.90 L825.57 243.23 L825.80 244.56 L826.02 245.89 L826.24 247.22 L826.46 248.55 L826.69 249.87 L826.91 251.20 L827.13 252.53 L827.35 253.86 L827.58 255.19 L827.80 256.52 L828.02 257.85 L828.24 259.18 L828.46 260.51 L828.68 261.84 L828.90 263.17 L829.12 264.50 L829.34 265.83 L829.56 267.16 L829.78 268.49 L830.00 269.82 L830.22 271.15 L830.43 272.49 L830.65 273.82 L830.86 275.15 L831.08 276.48 L831.29 277.81 L831.51 279.15 L831.72 280.48 L831.93 281.81 L832.14 283.14 L832.35 284.48 L832.56 285.81 L832.77 287.15 L832.97 288.48 L833.18 289.82 L833.38 291.15 L833.59 292.49 L833.79 293.83 L833.99 295.16 L834.19 296.50 L834.39 297.84 L834.59 299.18 L834.78 300.52 L834.98 301.85 L835.18 303.19 L835.38 304.53 L835.58 305.87 L835.78 307.21 L835.98 308.55 L836.19 309.88 L836.40 311.22 L836.61 312.55 L836.83 313.89 L837.05 315.22 L837.27 316.55 L837.51 317.88 L837.74 319.20 L837.99 320.53 L838.24 321.85 L838.50 323.17 L838.76 324.49 L839.04 325.81 L839.32 327.12 L839.61 328.44 L839.91 329.74 L840.23 331.05 L840.55 332.35 L840.88 333.65 L841.22 334.95 L841.58 336.24 L841.95 337.53 L842.33 338.81 L842.72 340.09 L843.13 341.37 L843.56 342.64 L843.99 343.91 L844.45 345.18 L844.92 346.45 L845.41 347.71 L845.92 348.98 L846.45 350.25 L847.01 351.52 L847.59 352.80 L848.19 354.08 L848.86 355.31 L849.63 356.40 L850.58 357.24 L851.74 357.75 L853.06 357.90 L854.38 357.71 L855.56 357.20 L856.53 356.42 L857.35 355.42 L858.04 354.28 L858.67 353.04 L859.26 351.78 L859.85 350.52 L860.44 349.27 L861.02 348.02 L861.60 346.77 L862.17 345.53 L862.74 344.29 L863.30 343.05 L863.86 341.82 L864.41 340.59 L864.95 339.35 L865.49 338.12 L866.02 336.89 L866.54 335.66 L867.06 334.42 L867.56 333.18 L868.06 331.95 L868.56 330.70 L869.04 329.46 L869.52 328.21 L869.98 326.96 L870.44 325.70 L870.89 324.44 L871.33 323.17 L871.75 321.89 L872.18 320.61 L872.59 319.33 L873.00 318.04 L873.40 316.75 L873.80 315.45 L874.20 314.15 L874.59 312.86 L874.99 311.56 L875.39 310.26 L875.78 308.96 L876.18 307.66 L876.58 306.36 L876.99 305.06 L877.40 303.77 L877.82 302.48 L878.25 301.19 L878.69 299.91 L879.13 298.63 L879.59 297.36 L880.06 296.09 L880.54 294.83 L881.04 293.58 L881.55 292.34 L882.08 291.10 L882.62 289.88 L883.18 288.66 L883.77 287.45 L884.37 286.25 L884.99 285.07 L885.64 283.90 L886.31 282.73 L887.00 281.59 L887.72 280.45 L888.46 279.33 L889.24 278.23 L890.04 277.14 L890.87 276.07 L891.73 275.01 L892.63 273.99 L893.56 273.00 L894.52 272.05 L895.52 271.15 L896.55 270.30 L897.62 269.51 L898.74 268.79 L899.89 268.13 L901.08 267.56 L902.32 267.07 L903.60 266.68 L904.93 266.38 L906.29 266.18 L907.68 266.08 L909.08 266.08 L910.48 266.16 L911.85 266.32 L913.18 266.56 L914.47 266.88 L915.74 267.26 L916.97 267.71 L918.19 268.21 L919.39 268.78 L920.58 269.39 L921.76 270.04 L922.93 270.72 L924.10 271.42 L925.27 272.13 L926.43 272.84 L927.60 273.54 L928.77 274.22 L929.95 274.89 L931.12 275.54 L932.31 276.17 L933.49 276.80 L934.69 277.41 L935.88 278.02 L937.08 278.62 L938.29 279.21 L939.50 279.81 L940.72 280.40 L941.93 281.00 L943.14 281.61 L944.35 282.22 L945.55 282.85 L946.74 283.49 L947.92 284.15 L949.09 284.83 L950.24 285.53 L951.39 286.24 L952.52 286.97 L953.65 287.72 L954.77 288.47 L955.89 289.23 L957.00 289.99 L958.11 290.75 L959.23 291.52 L960.34 292.27 L961.46 293.03 L962.58 293.77 L963.71 294.51 L964.84 295.25 L965.97 295.98 L967.11 296.70 L968.25 297.41 L969.40 298.12 L970.55 298.83 L971.70 299.53 L972.85 300.22 L974.01 300.90 L975.18 301.58 L976.35 302.25 L977.52 302.91 L978.69 303.57 L979.87 304.22 L981.06 304.87 L982.24 305.51 L983.43 306.14 L984.63 306.76 L985.83 307.38 L987.03 307.99 L988.24 308.59 L989.45 309.19 L990.66 309.79 L991.88 310.38 L993.09 310.98 L994.31 311.57 L995.52 312.16 L996.74 312.75 L997.95 313.34 L999.17 313.93 L1000.38 314.53 L1001.59 315.13 L1002.80 315.73 L1004.00 316.34 L1005.20 316.96 L1006.40 317.58 L1007.59 318.21 L1008.78 318.85 L1009.96 319.50 L1011.15 320.14 L1012.33 320.80 L1013.50 321.46 L1014.68 322.12 L1015.85 322.78 L1017.02 323.45 L1018.19 324.12 L1019.36 324.78 L1020.53 325.45 L1021.71 326.12 L1022.88 326.78 L1024.05 327.45 L1025.22 328.11 L1026.40 328.77 L1027.58 329.42 L1028.76 330.07 L1029.94 330.71 L1031.13 331.35 L1032.32 331.98 L1033.52 332.61 L1034.72 333.22 L1035.92 333.83 L1037.13 334.43 L1038.35 335.02 L1039.57 335.60 L1040.80 336.16 L1042.03 336.72 L1043.26 337.27 L1044.50 337.81 L1045.75 338.34 L1047.00 338.86 L1048.25 339.37 L1049.51 339.88 L1050.77 340.37 L1052.04 340.86 L1053.30 341.33 L1054.58 341.80 L1055.85 342.26 L1057.13 342.72 L1058.40 343.16 L1059.68 343.59 L1060.97 344.02 L1062.25 344.44 L1063.54 344.86 L1064.82 345.26 L1066.11 345.66 L1067.40 346.05 L1068.69 346.43 L1069.98 346.81 L1071.27 347.18 L1072.56 347.54 L1073.85 347.89 L1075.15 348.24 L1076.44 348.58 L1077.74 348.91 L1079.03 349.23 L1080.33 349.54 L1081.64 349.85 L1082.94 350.14 L1084.25 350.43 L1085.56 350.71 L1086.87 350.98 L1088.19 351.24 L1089.51 351.49 L1090.83 351.73 L1092.16 351.96 L1093.49 352.18 L1094.83 352.39 L1096.17 352.59 L1097.51 352.77 L1098.86 352.95 L1100.22 353.12 L1101.58 353.27 L1102.94 353.42 L1104.31 353.54 L1105.69 353.66 L1107.06 353.75 L1108.43 353.83 L1109.81 353.88 L1111.18 353.92 L1112.55 353.92 L1113.91 353.90 L1115.27 353.85 L1116.62 353.77 L1117.96 353.66 L1119.30 353.51 L1120.62 353.32 L1121.93 353.10 L1123.23 352.83 L1124.51 352.53 L1125.78 352.18 L1127.04 351.78 L1128.27 351.33 L1129.49 350.84 L1130.69 350.29 L1131.87 349.70 L1133.02 349.06 L1134.16 348.37 L1135.29 347.65 L1136.39 346.89 L1137.47 346.09 L1138.54 345.25 L1139.59 344.39 L1140.62 343.50 L1141.64 342.58 L1142.63 341.63 L1143.61 340.67 L1144.58 339.68 L1145.52 338.68 L1146.46 337.66 L1147.37 336.64 L1148.27 335.60 L1149.16 334.56 L1150.03 333.51 L1150.88 332.46 L1151.72 331.40 L1152.55 330.35 L1153.37 329.30 L1154.19 328.25 L1154.99 327.20 L1155.79 326.14 L1156.60 325.09 L1157.40 324.04 L1158.20 322.99 L1159.01 321.94 L1159.83 320.89 L1160.66 319.83 L1161.50 318.78 L1162.35 317.74 L1163.20 316.69 L1164.07 315.65 L1164.95 314.61 L1165.84 313.58 L1166.74 312.56 L1167.65 311.54 L1168.57 310.53 L1169.50 309.53 L1170.44 308.54 L1171.39 307.56 L1172.34 306.59 L1173.31 305.63 L1174.27 304.68 L1175.24 303.73 L1176.20 302.78 L1177.15 301.82 L1178.08 300.86 L1179.01 299.88 L1179.91 298.89 L1180.79 297.88 L1181.64 296.85 L1182.46 295.80 L1183.25 294.72 L1184.00 293.61 L1184.72 292.48 L1185.41 291.32 L1186.07 290.15 L1186.70 288.96 L1187.30 287.75 L1187.88 286.53 L1188.43 285.30 L1188.95 284.07 L1189.46 282.82 L1189.94 281.57 L1190.41 280.31 L1190.85 279.04 L1191.27 277.77 L1191.68 276.49 L1192.06 275.20 L1192.43 273.91 L1192.79 272.61 L1193.13 271.31 L1193.45 270.01 L1193.77 268.70 L1194.06 267.38 L1194.35 266.06 L1194.63 264.74 L1194.89 263.42 L1195.15 262.09 L1195.40 260.76 L1195.64 259.43 L1195.88 258.10 L1196.10 256.76 L1196.33 255.43 L1196.55 254.09 L1196.76 252.75 L1196.97 251.42 L1197.18 250.08 L1197.39 248.74 L1197.60 247.41 L1197.80 246.07 L1198.00 244.73 L1198.20 243.40 L1198.39 242.06 L1198.59 240.72 L1198.78 239.38 L1198.97 238.04 L1199.15 236.71 L1199.34 235.37 L1199.52 234.03 L1199.70 232.69 L1199.88 231.35 L1200.05 230.02 L1200.23 228.68 L1200.40 227.34 L1200.57 226.00 L1200.74 224.66 L1200.90 223.32 L1201.07 221.98 L1201.23 220.65 L1201.39 219.31 L1201.55 217.97 L1201.70 216.63 L1201.86 215.29 L1202.01 213.95 L1202.17 212.61 L1202.32 211.27 L1202.47 209.93 L1202.61 208.59 L1202.76 207.25 L1202.90 205.91 L1203.05 204.57 L1203.19 203.23 L1203.33 201.89 L1203.47 200.55 L1203.61 199.21 L1203.74 197.86 L1203.88 196.52 L1204.01 195.18 L1204.15 193.84 L1204.28 192.50 L1204.41 191.16 L1204.54 189.82 L1204.67 188.47 L1204.80 187.13 L1204.92 185.79 L1205.05 184.45 L1205.17 183.11 L1205.30 181.76 L1205.42 180.42 L1205.55 179.08 L1205.67 177.74 L1205.79 176.39 L1205.91 175.05 L1206.03 173.71 L1206.15 172.36 L1206.27 171.02 L1206.39 169.68 L1206.50 168.33 L1206.62 166.99 L1206.74 165.65 L1206.86 164.30 L1206.97 162.96 L1207.09 161.61 L1207.20 160.27 L1207.32 158.93 L1207.43 157.58 L1207.55 156.24 L1207.66 154.89 L1207.78 153.55 L1207.89 152.20 L1208.01 150.86 L1208.12 149.51 L1208.24 148.16 L1208.35 146.82 L1208.46 145.47 L1208.58 144.13 L1208.69 142.78 L1208.81 141.44 L1208.92 140.09 L1209.04 138.74 L1209.15 137.40 L1209.27 136.05 L1209.38 134.71 L1209.50 133.36 L1209.62 132.01 L1209.73 130.67 L1209.85 129.32 L1209.96 127.98 L1210.08 126.63 L1210.20 125.29 L1210.32 123.94 L1210.43 122.60 L1210.55 121.25 L1210.67 119.91 L1210.79 118.56 L1210.91 117.22 L1211.03 115.87 L1211.15 114.53 L1211.27 113.18 L1211.39 111.84 L1211.51 110.50 L1211.64 109.15 L1211.76 107.81 L1211.88 106.47 L1212.01 105.12 L1212.13 103.78 L1212.26 102.44 L1212.38 101.10 L1212.51 99.76 L1212.64 98.42 L1212.76 97.08 L1212.89 95.74 L1213.02 94.40 L1213.15 93.06 L1213.29 91.72 L1213.42 90.38 L1213.55 89.04 L1213.68 87.70 L1213.82 86.37 L1213.95 85.03 L1214.09 83.69 L1214.23 82.35 L1214.37 81.01 L1214.51 79.67 L1214.66 78.33 L1214.80 76.99 L1214.95 75.65 L1215.11 74.30 L1215.26 72.96 L1215.42 71.61 L1215.58 70.25 L1215.75 68.90 L1215.92 67.54 L1216.09 66.18 L1216.27 64.82 L1216.45 63.47 L1216.64 62.12 L1216.84 60.77 L1217.05 59.44 L1217.26 58.11 L1217.49 56.80 L1217.72 55.51 L1217.97 54.23 L1218.22 52.96 L1218.48 51.70 L1218.76 50.43 L1219.04 49.14 L1219.34 47.84 L1219.64 46.50 L1219.95 45.13 L1220.26 43.71 L1220.59 42.25 L1220.95 40.78 L1221.39 39.40 L1221.93 38.17 L1222.63 37.18 L1223.48 36.50 L1224.44 36.19 L1225.40 36.33 L1226.32 36.94 L1227.17 37.90 L1227.96 39.10 L1228.67 40.39 L1229.32 41.69 L1229.90 42.99 L1230.42 44.30 L1230.88 45.60 L1231.30 46.91 L1231.67 48.22 L1232.00 49.53 L1232.30 50.84 L1232.56 52.15 L1232.80 53.47 L1233.03 54.79 L1233.23 56.10 L1233.43 57.42 L1233.62 58.75 L1233.81 60.07 L1233.99 61.40 L1234.18 62.72 L1234.36 64.05 L1234.54 65.38 L1234.71 66.71 L1234.88 68.05 L1235.06 69.38 L1235.22 70.72 L1235.39 72.05 L1235.56 73.39 L1235.72 74.73 L1235.88 76.07 L1236.04 77.41 L1236.20 78.75 L1236.35 80.09 L1236.51 81.43 L1236.66 82.77 L1236.81 84.12 L1236.96 85.46 L1237.11 86.81 L1237.26 88.15 L1237.40 89.50 L1237.55 90.84 L1237.70 92.19 L1237.84 93.53 L1237.98 94.88 L1238.13 96.23 L1238.27 97.57 L1238.41 98.92 L1238.56 100.26 L1238.70 101.61 L1238.84 102.96 L1238.98 104.30 L1239.12 105.65 L1239.26 106.99 L1239.41 108.33 L1239.55 109.68 L1239.69 111.02 L1239.83 112.36 L1239.98 113.70 L1240.12 115.04 L1240.27 116.38 L1240.41 117.72 L1240.56 119.06 L1240.71 120.40 L1240.86 121.73 L1241.01 123.06 L1241.16 124.40 L1241.31 125.73 L1241.46 127.06 L1241.62 128.39 L1241.77 129.72 L1241.93 131.04" fill="none" stroke="#7030A0" stroke-width="3.60" stroke-linecap="round" stroke-linejoin="round"/>
<path d="M779.16 425.36 L780.33 426.63 L781.35 427.97 L782.26 429.37 L783.08 430.83 L783.82 432.32 L784.51 433.83 L785.17 435.37 L785.83 436.91 L786.49 438.44 L787.15 439.98 L787.81 441.52 L788.47 443.06 L789.12 444.61 L789.77 446.15 L790.42 447.70 L791.06 449.25 L791.69 450.80 L792.31 452.36 L792.93 453.92 L793.53 455.48 L794.12 457.05 L794.69 458.62 L795.26 460.19 L795.81 461.77 L796.36 463.35 L796.89 464.94 L797.41 466.52 L797.93 468.11 L798.43 469.71 L798.93 471.31 L799.41 472.90 L799.90 474.51 L800.37 476.11 L800.83 477.72 L801.29 479.32 L801.75 480.93 L802.20 482.55 L802.64 484.16 L803.08 485.78 L803.51 487.39 L803.94 489.01 L804.37 490.63 L804.79 492.25 L805.21 493.87 L805.63 495.49 L806.05 497.11 L806.46 498.73 L806.88 500.36 L807.29 501.98 L807.71 503.60 L808.12 505.22 L808.53 506.85 L808.94 508.47 L809.36 510.09 L809.76 511.72 L810.17 513.34 L810.58 514.96 L810.98 516.59 L811.39 518.21 L811.79 519.84 L812.18 521.46 L812.58 523.09 L812.97 524.72 L813.36 526.35 L813.74 527.97 L814.13 529.60 L814.51 531.23 L814.88 532.86 L815.25 534.49 L815.62 536.13 L815.98 537.76 L816.34 539.39 L816.69 541.03 L817.04 542.66 L817.38 544.30 L817.72 545.94 L818.05 547.58 L818.38 549.22 L818.70 550.86 L819.01 552.50 L819.32 554.15 L819.63 555.79 L819.93 557.44 L820.22 559.08 L820.52 560.73 L820.80 562.38 L821.09 564.03 L821.37 565.68 L821.64 567.33 L821.92 568.98 L822.19 570.63 L822.46 572.28 L822.73 573.94 L822.99 575.59 L823.25 577.24 L823.52 578.90 L823.78 580.55 L824.04 582.20 L824.30 583.86 L824.56 585.51 L824.82 587.17 L825.08 588.82 L825.34 590.47 L825.60 592.13 L825.86 593.78 L826.12 595.44 L826.39 597.09 L826.66 598.74 L826.92 600.39 L827.20 602.05 L827.47 603.70 L827.75 605.35 L828.03 607.00 L828.31 608.65 L828.60 610.30 L828.89 611.95 L829.18 613.60 L829.48 615.24 L829.79 616.89 L830.09 618.53 L830.41 620.18 L830.73 621.82 L831.05 623.46 L831.38 625.10 L831.71 626.74 L832.05 628.38 L832.39 630.02 L832.73 631.66 L833.08 633.30 L833.43 634.93 L833.79 636.57 L834.14 638.20 L834.50 639.84 L834.86 641.47 L835.23 643.11 L835.59 644.74 L835.96 646.37 L836.33 648.01 L836.70 649.64 L837.07 651.27 L837.45 652.90 L837.82 654.54 L838.20 656.17 L838.58 657.80 L838.96 659.43 L839.35 661.05 L839.75 662.68 L840.16 664.30 L840.58 665.92 L841.02 667.53 L841.46 669.14 L841.92 670.75 L842.40 672.35 L842.89 673.95 L843.40 675.54 L843.93 677.12 L844.49 678.70 L845.07 680.27 L845.67 681.83 L846.30 683.39 L846.96 684.93 L847.69 686.44 L848.48 687.93 L849.35 689.39 L850.33 690.79 L851.42 692.15 L852.64 693.38 L854.01 694.27 L855.57 694.65 L857.21 694.52 L858.77 694.11 L860.21 693.48 L861.53 692.68 L862.74 691.71 L863.87 690.60 L864.91 689.37 L865.89 688.04 L866.81 686.64 L867.69 685.18 L868.54 683.68 L869.37 682.18 L870.18 680.67 L870.98 679.15 L871.77 677.64 L872.54 676.12 L873.31 674.61 L874.06 673.09 L874.80 671.57 L875.53 670.04 L876.25 668.52 L876.96 666.99 L877.66 665.47 L878.36 663.94 L879.04 662.41 L879.72 660.88 L880.40 659.34 L881.06 657.81 L881.73 656.27 L882.38 654.74 L883.03 653.20 L883.68 651.67 L884.32 650.13 L884.96 648.59 L885.60 647.05 L886.24 645.51 L886.87 643.97 L887.51 642.43 L888.14 640.89 L888.77 639.35 L889.40 637.81 L890.04 636.27 L890.68 634.73 L891.31 633.19 L891.95 631.65 L892.60 630.12 L893.24 628.58 L893.90 627.04 L894.55 625.50 L895.21 623.97 L895.87 622.43 L896.54 620.90 L897.21 619.37 L897.89 617.84 L898.57 616.31 L899.26 614.78 L899.95 613.26 L900.65 611.74 L901.35 610.22 L902.06 608.70 L902.78 607.19 L903.50 605.68 L904.24 604.17 L904.97 602.66 L905.72 601.16 L906.47 599.67 L907.23 598.17 L908.00 596.69 L908.78 595.20 L909.57 593.72 L910.36 592.25 L911.16 590.77 L911.98 589.31 L912.80 587.85 L913.63 586.39 L914.47 584.94 L915.32 583.50 L916.18 582.06 L917.05 580.63 L917.94 579.20 L918.83 577.78 L919.73 576.36 L920.65 574.96 L921.58 573.56 L922.51 572.16 L923.46 570.78 L924.42 569.40 L925.40 568.03 L926.38 566.67 L927.37 565.32 L928.38 563.98 L929.40 562.65 L930.43 561.33 L931.47 560.02 L932.53 558.72 L933.60 557.43 L934.67 556.15 L935.77 554.88 L936.87 553.62 L937.99 552.38 L939.12 551.15 L940.26 549.93 L941.41 548.72 L942.58 547.53 L943.76 546.35 L944.95 545.19 L946.16 544.04 L947.38 542.90 L948.61 541.78 L949.86 540.68 L951.12 539.59 L952.39 538.51 L953.68 537.46 L954.98 536.42 L956.29 535.39 L957.62 534.38 L958.96 533.39 L960.31 532.41 L961.67 531.44 L963.04 530.48 L964.42 529.54 L965.81 528.61 L967.20 527.68 L968.61 526.77 L970.02 525.86 L971.43 524.96 L972.85 524.06 L974.28 523.17 L975.71 522.29 L977.14 521.41 L978.57 520.53 L980.00 519.65 L981.43 518.77 L982.87 517.89 L984.30 517.01 L985.73 516.13 L987.16 515.25 L988.58 514.36 L990.00 513.47 L991.41 512.57 L992.82 511.66 L994.23 510.75 L995.62 509.83 L997.01 508.90 L998.39 507.96 L999.76 507.01 L1001.12 506.05 L1002.48 505.09 L1003.84 504.12 L1005.20 503.16 L1006.56 502.20 L1007.93 501.25 L1009.30 500.31 L1010.69 499.38 L1012.09 498.46 L1013.50 497.56 L1014.91 496.66 L1016.32 495.74 L1017.72 494.79 L1019.09 493.81 L1020.44 492.80 L1021.75 491.74 L1023.03 490.64 L1024.25 489.50 L1025.42 488.31 L1026.52 487.07 L1027.55 485.78 L1028.51 484.45 L1029.41 483.07 L1030.25 481.65 L1031.04 480.20 L1031.79 478.71 L1032.49 477.20 L1033.16 475.67 L1033.80 474.11 L1034.42 472.54 L1035.02 470.96 L1035.61 469.37 L1036.20 467.78 L1036.79 466.19 L1037.38 464.61 L1037.99 463.03 L1038.60 461.46 L1039.22 459.89 L1039.84 458.33 L1040.46 456.77 L1041.09 455.21 L1041.71 453.66 L1042.33 452.10 L1042.95 450.55 L1043.55 449.00 L1044.15 447.45 L1044.74 445.89 L1045.31 444.34 L1045.87 442.78 L1046.41 441.21 L1046.95 439.65 L1047.49 438.09 L1048.05 436.53 L1048.63 434.99 L1049.24 433.45 L1049.89 431.93 L1050.59 430.42 L1051.35 428.94 L1052.18 427.47 L1053.08 426.04 L1054.08 424.63 L1055.17 423.25 L1056.35 421.92 L1057.63 420.67 L1058.98 419.57 L1060.38 418.68 L1061.83 418.04 L1063.29 417.71 L1064.76 417.73 L1066.22 418.08 L1067.66 418.71 L1069.09 419.56 L1070.48 420.58 L1071.82 421.73 L1073.12 422.95 L1074.35 424.20 L1075.53 425.46 L1076.65 426.74 L1077.74 428.04 L1078.78 429.34 L1079.80 430.66 L1080.78 431.98 L1081.75 433.32 L1082.70 434.66 L1083.65 436.00 L1084.59 437.35 L1085.54 438.70 L1086.49 440.06 L1087.44 441.41 L1088.40 442.77 L1089.35 444.13 L1090.32 445.49 L1091.29 446.85 L1092.26 448.20 L1093.24 449.56 L1094.22 450.92 L1095.20 452.27 L1096.20 453.63 L1097.19 454.98 L1098.20 456.33 L1099.21 457.67 L1100.22 459.01 L1101.25 460.35 L1102.27 461.68 L1103.31 463.01 L1104.35 464.33 L1105.40 465.65 L1106.46 466.95 L1107.53 468.26 L1108.60 469.55 L1109.68 470.84 L1110.77 472.12 L1111.87 473.39 L1112.98 474.65 L1114.10 475.91 L1115.22 477.15 L1116.36 478.38 L1117.50 479.61 L1118.66 480.82 L1119.83 482.02 L1121.00 483.21 L1122.19 484.38 L1123.39 485.55 L1124.60 486.69 L1125.82 487.83 L1127.05 488.95 L1128.30 490.06 L1129.55 491.15 L1130.82 492.23 L1132.10 493.29 L1133.40 494.34 L1134.71 495.37 L1136.03 496.38 L1137.36 497.37 L1138.71 498.35 L1140.07 499.31 L1141.45 500.25 L1142.84 501.17 L1144.24 502.07 L1145.66 502.95 L1147.10 503.81 L1148.54 504.65 L1150.01 505.46 L1151.48 506.26 L1152.97 507.04 L1154.47 507.80 L1155.99 508.53 L1157.51 509.25 L1159.04 509.95 L1160.58 510.63 L1162.13 511.28 L1163.68 511.92 L1165.25 512.54 L1166.82 513.14 L1168.39 513.72 L1169.97 514.28 L1171.55 514.82 L1173.13 515.36 L1174.71 515.88 L1176.29 516.41 L1177.87 516.93 L1179.45 517.47 L1181.02 518.01 L1182.58 518.58 L1184.13 519.16 L1185.68 519.78 L1187.21 520.42 L1188.73 521.10 L1190.24 521.82 L1191.73 522.59 L1193.20 523.40 L1194.65 524.27 L1196.08 525.18 L1197.49 526.14 L1198.86 527.13 L1200.20 528.17 L1201.50 529.24 L1202.76 530.35 L1203.99 531.48 L1205.19 532.64 L1206.36 533.81 L1207.53 534.99 L1208.70 536.18 L1209.87 537.35 L1211.05 538.53 L1212.24 539.70 L1213.43 540.86 L1214.63 542.03 L1215.83 543.20 L1217.02 544.37 L1218.21 545.54 L1219.39 546.73 L1220.57 547.92 L1221.74 549.12 L1222.89 550.33 L1224.03 551.56 L1225.15 552.80 L1226.25 554.07 L1227.33 555.35 L1228.40 556.64 L1229.44 557.96 L1230.46 559.29 L1231.47 560.63 L1232.45 561.99 L1233.42 563.37 L1234.37 564.75 L1235.30 566.15 L1236.21 567.56 L1237.11 568.98 L1237.99 570.41 L1238.85 571.85 L1239.70 573.29 L1240.52 574.75 L1241.34 576.21 L1242.13 577.67 L1242.91 579.14 L1243.68 580.62 L1244.43 582.10 L1245.17 583.58 L1245.91 585.06 L1246.64 586.54 L1247.38 588.02 L1248.12 589.51 L1248.87 590.99 L1249.63 592.47 L1250.41 593.95 L1251.21 595.42 L1252.03 596.89 L1252.88 598.36 L1253.77 599.82 L1254.69 601.28 L1255.65 602.72 L1256.66 604.16 L1257.72 605.56 L1258.85 606.81 L1260.08 607.82 L1261.42 608.49 L1262.88 608.74 L1264.43 608.61 L1266.02 608.16 L1267.57 607.47 L1269.05 606.62 L1270.46 605.66 L1271.83 604.65 L1273.20 603.66 L1274.59 602.74 L1276.02 601.91 L1277.48 601.10 L1278.94 600.27" fill="none" stroke="#9BBB59" stroke-width="4.00" stroke-linecap="round" stroke-linejoin="round"/>
<path d="M781.21 775.76 L781.89 776.66 L782.52 777.58 L783.11 778.51 L783.67 779.47 L784.19 780.44 L784.69 781.43 L785.15 782.43 L785.59 783.45 L786.01 784.47 L786.41 785.51 L786.80 786.55 L787.17 787.60 L787.53 788.65 L787.88 789.71 L788.23 790.78 L788.58 791.84 L788.92 792.90 L789.27 793.96 L789.63 795.02 L790.00 796.07 L790.37 797.12 L790.77 798.16 L791.17 799.19 L791.59 800.22 L792.02 801.24 L792.47 802.25 L792.92 803.26 L793.39 804.26 L793.87 805.26 L794.36 806.25 L794.85 807.24 L795.36 808.22 L795.88 809.20 L796.40 810.17 L796.93 811.14 L797.47 812.11 L798.01 813.07 L798.57 814.03 L799.12 814.99 L799.69 815.95 L800.25 816.90 L800.82 817.85 L801.40 818.80 L801.98 819.75 L802.56 820.69 L803.14 821.64 L803.73 822.59 L804.32 823.53 L804.90 824.47 L805.49 825.42 L806.08 826.36 L806.67 827.31 L807.25 828.25 L807.84 829.20 L808.42 830.15 L809.00 831.10 L809.57 832.05 L810.15 833.00 L810.72 833.96 L811.29 834.91 L811.85 835.87 L812.42 836.83 L812.98 837.79 L813.54 838.75 L814.10 839.71 L814.65 840.68 L815.20 841.64 L815.75 842.61 L816.30 843.57 L816.85 844.54 L817.39 845.51 L817.94 846.48 L818.48 847.45 L819.02 848.42 L819.56 849.40 L820.10 850.37 L820.64 851.34 L821.17 852.32 L821.71 853.29 L822.24 854.27 L822.77 855.25 L823.31 856.22 L823.84 857.20 L824.37 858.18 L824.90 859.15 L825.43 860.13 L825.96 861.11 L826.49 862.09 L827.02 863.07 L827.55 864.04 L828.07 865.02 L828.60 866.00 L829.13 866.98 L829.66 867.95 L830.19 868.93 L830.72 869.91 L831.25 870.89 L831.79 871.86 L832.32 872.84 L832.85 873.81 L833.38 874.79 L833.92 875.76 L834.45 876.74 L834.99 877.71 L835.53 878.68 L836.07 879.65 L836.61 880.62 L837.15 881.59 L837.69 882.56 L838.24 883.53 L838.78 884.50 L839.33 885.46 L839.88 886.43 L840.43 887.39 L840.99 888.35 L841.54 889.31 L842.10 890.27 L842.66 891.23 L843.23 892.19 L843.79 893.14 L844.36 894.10 L844.93 895.05 L845.50 896.00 L846.08 896.95 L846.66 897.90 L847.24 898.84 L847.82 899.79 L848.41 900.73 L849.00 901.67 L849.60 902.60 L850.19 903.54 L850.79 904.47 L851.40 905.40 L852.01 906.33 L852.62 907.26 L853.23 908.19 L853.85 909.11 L854.48 910.03 L855.10 910.95 L855.74 911.86 L856.37 912.77 L857.01 913.68 L857.66 914.59 L858.30 915.49 L858.96 916.40 L859.62 917.30 L860.28 918.19 L860.94 919.08 L861.61 919.97 L862.29 920.86 L862.97 921.74 L863.66 922.62 L864.35 923.49 L865.04 924.36 L865.74 925.23 L866.44 926.09 L867.15 926.95 L867.87 927.81 L868.59 928.66 L869.31 929.50 L870.04 930.34 L870.77 931.18 L871.51 932.01 L872.26 932.84 L873.00 933.66 L873.76 934.48 L874.52 935.29 L875.28 936.09 L876.05 936.90 L876.83 937.69 L877.61 938.48 L878.40 939.26 L879.19 940.04 L879.99 940.81 L880.79 941.58 L881.60 942.34 L882.41 943.09 L883.23 943.84 L884.06 944.58 L884.89 945.32 L885.73 946.04 L886.57 946.76 L887.42 947.48 L888.28 948.19 L889.14 948.89 L890.01 949.58 L890.88 950.26 L891.76 950.94 L892.64 951.61 L893.53 952.28 L894.43 952.93 L895.34 953.58 L896.25 954.22 L897.16 954.85 L898.08 955.47 L899.01 956.09 L899.95 956.69 L900.89 957.29 L901.83 957.88 L902.78 958.46 L903.74 959.03 L904.70 959.59 L905.66 960.14 L906.64 960.68 L907.61 961.22 L908.59 961.74 L909.58 962.25 L910.57 962.75 L911.57 963.25 L912.57 963.73 L913.57 964.20 L914.58 964.66 L915.59 965.11 L916.61 965.54 L917.63 965.96 L918.66 966.36 L919.70 966.74 L920.74 967.09 L921.79 967.42 L922.85 967.73 L923.92 968.00 L925.00 968.24 L926.09 968.45 L927.18 968.63 L928.29 968.77 L929.40 968.90 L930.51 968.99 L931.63 969.07 L932.75 969.13 L933.88 969.17 L935.00 969.20 L936.12 969.21 L937.24 969.22 L938.36 969.22 L939.47 969.21 L940.59 969.20 L941.70 969.18 L942.81 969.16 L943.92 969.13 L945.03 969.10 L946.14 969.07 L947.25 969.03 L948.35 969.00 L949.46 968.97 L950.56 968.93 L951.66 968.90 L952.77 968.87 L953.87 968.85 L954.97 968.83 L956.08 968.82 L957.18 968.81 L958.28 968.83 L959.38 968.87 L960.47 968.94 L961.56 969.06 L962.65 969.23 L963.72 969.46 L964.79 969.74 L965.85 970.08 L966.90 970.46 L967.94 970.89 L968.97 971.35 L969.99 971.84 L971.00 972.35 L972.00 972.89 L972.98 973.43 L973.96 973.99 L974.93 974.55 L975.89 975.12 L976.85 975.69 L977.80 976.25 L978.76 976.82 L979.72 977.37 L980.68 977.92 L981.64 978.46 L982.62 978.98 L983.60 979.48 L984.59 979.96 L985.59 980.43 L986.60 980.88 L987.61 981.32 L988.64 981.75 L989.66 982.16 L990.69 982.57 L991.73 982.97 L992.77 983.36 L993.81 983.75 L994.85 984.14 L995.90 984.52 L996.94 984.91 L997.99 985.29 L999.03 985.68 L1000.08 986.06 L1001.12 986.46 L1002.16 986.85 L1003.19 987.25 L1004.23 987.65 L1005.26 988.06 L1006.29 988.48 L1007.31 988.91 L1008.33 989.34 L1009.35 989.78 L1010.36 990.23 L1011.36 990.70 L1012.36 991.17 L1013.35 991.66 L1014.33 992.15 L1015.31 992.67 L1016.28 993.19 L1017.24 993.73 L1018.19 994.29 L1019.14 994.87 L1020.07 995.46 L1021.00 996.07 L1021.91 996.69 L1022.82 997.34 L1023.71 997.99 L1024.59 998.67 L1025.47 999.36 L1026.33 1000.07 L1027.18 1000.79 L1028.02 1001.53 L1028.85 1002.28 L1029.66 1003.04 L1030.47 1003.82 L1031.26 1004.61 L1032.04 1005.41 L1032.81 1006.23 L1033.57 1007.05 L1034.31 1007.89 L1035.04 1008.74 L1035.76 1009.60 L1036.46 1010.47 L1037.15 1011.36 L1037.83 1012.25 L1038.50 1013.14 L1039.14 1014.05 L1039.78 1014.97 L1040.40 1015.89 L1041.01 1016.83 L1041.60 1017.77 L1042.18 1018.71 L1042.74 1019.67 L1043.29 1020.63 L1043.83 1021.59 L1044.36 1022.56 L1044.87 1023.54 L1045.38 1024.52 L1045.88 1025.50 L1046.36 1026.49 L1046.84 1027.49 L1047.32 1028.49 L1047.79 1029.49 L1048.25 1030.49 L1048.71 1031.50 L1049.16 1032.51 L1049.61 1033.52 L1050.06 1034.53 L1050.51 1035.55 L1050.96 1036.56 L1051.41 1037.58 L1051.86 1038.60 L1052.31 1039.61 L1052.76 1040.63 L1053.22 1041.65 L1053.68 1042.66 L1054.15 1043.68 L1054.62 1044.69 L1055.10 1045.70 L1055.59 1046.71 L1056.08 1047.72 L1056.58 1048.72 L1057.08 1049.72 L1057.59 1050.71 L1058.10 1051.70 L1058.62 1052.68 L1059.15 1053.65 L1059.68 1054.62 L1060.22 1055.58 L1060.76 1056.54 L1061.31 1057.48 L1061.87 1058.42 L1062.43 1059.35 L1063.01 1060.27 L1063.62 1061.19 L1064.25 1062.11 L1064.91 1063.02 L1065.61 1063.94 L1066.36 1064.84 L1067.17 1065.69 L1068.05 1066.48 L1069.00 1067.17 L1069.99 1067.75 L1071.02 1068.18 L1072.04 1068.44 L1073.04 1068.49 L1073.99 1068.33 L1074.89 1067.96 L1075.74 1067.41 L1076.55 1066.73 L1077.32 1065.94 L1078.05 1065.08 L1078.76 1064.17 L1079.44 1063.26 L1080.10 1062.33 L1080.74 1061.39 L1081.35 1060.44 L1081.94 1059.48 L1082.51 1058.51 L1083.05 1057.54 L1083.58 1056.56 L1084.09 1055.57 L1084.58 1054.57 L1085.06 1053.57 L1085.51 1052.56 L1085.96 1051.54 L1086.38 1050.52 L1086.79 1049.49 L1087.19 1048.46 L1087.58 1047.42 L1087.96 1046.37 L1088.32 1045.33 L1088.67 1044.27 L1089.02 1043.22 L1089.35 1042.16 L1089.68 1041.10 L1090.00 1040.03 L1090.32 1038.96 L1090.62 1037.89 L1090.93 1036.82 L1091.23 1035.75 L1091.52 1034.67 L1091.82 1033.60 L1092.11 1032.52 L1092.40 1031.45 L1092.70 1030.37 L1092.99 1029.30 L1093.28 1028.22 L1093.58 1027.15 L1093.88 1026.07 L1094.18 1025.00 L1094.48 1023.93 L1094.79 1022.86 L1095.10 1021.79 L1095.40 1020.72 L1095.71 1019.65 L1096.03 1018.59 L1096.34 1017.52 L1096.65 1016.45 L1096.97 1015.39 L1097.28 1014.32 L1097.60 1013.26 L1097.92 1012.19 L1098.23 1011.13 L1098.55 1010.07 L1098.87 1009.00 L1099.18 1007.94 L1099.50 1006.88 L1099.82 1005.81 L1100.13 1004.75 L1100.45 1003.68 L1100.76 1002.62 L1101.08 1001.56 L1101.39 1000.49 L1101.70 999.43 L1102.01 998.36 L1102.32 997.29 L1102.63 996.23 L1102.93 995.16 L1103.24 994.09 L1103.54 993.03 L1103.84 991.96 L1104.14 990.89 L1104.43 989.82 L1104.72 988.75 L1105.01 987.67 L1105.30 986.60 L1105.58 985.53 L1105.86 984.45 L1106.14 983.37 L1106.41 982.30 L1106.68 981.22 L1106.95 980.14 L1107.21 979.05 L1107.47 977.97 L1107.72 976.89 L1107.97 975.80 L1108.22 974.71 L1108.46 973.62 L1108.71 972.54 L1108.95 971.45 L1109.19 970.36 L1109.43 969.27 L1109.67 968.18 L1109.91 967.09 L1110.15 966.00 L1110.40 964.91 L1110.65 963.82 L1110.90 962.74 L1111.15 961.65 L1111.41 960.57 L1111.67 959.49 L1111.93 958.41 L1112.21 957.33 L1112.49 956.26 L1112.77 955.18 L1113.06 954.11 L1113.36 953.04 L1113.67 951.98 L1113.99 950.92 L1114.31 949.86 L1114.65 948.80 L1114.99 947.75 L1115.35 946.71 L1115.72 945.66 L1116.10 944.63 L1116.49 943.59 L1116.89 942.56 L1117.31 941.54 L1117.74 940.52 L1118.19 939.51 L1118.65 938.50 L1119.13 937.50 L1119.63 936.50 L1120.14 935.51 L1120.66 934.53 L1121.21 933.55 L1121.78 932.59 L1122.36 931.64 L1122.97 930.70 L1123.60 929.78 L1124.25 928.88 L1124.92 928.00 L1125.62 927.14 L1126.35 926.30 L1127.09 925.48 L1127.85 924.67 L1128.63 923.88 L1129.42 923.10 L1130.22 922.33 L1131.03 921.57 L1131.84 920.80 L1132.65 920.04 L1133.45 919.27 L1134.26 918.50 L1135.06 917.72 L1135.85 916.95 L1136.65 916.16 L1137.44 915.38 L1138.22 914.59 L1139.01 913.80 L1139.79 913.01 L1140.57 912.21 L1141.34 911.41 L1142.11 910.61 L1142.88 909.81 L1143.64 909.00 L1144.40 908.19 L1145.16 907.37 L1145.91 906.55 L1146.66 905.73 L1147.40 904.91 L1148.15 904.08 L1148.89 903.25 L1149.62 902.42 L1150.35 901.59 L1151.08 900.75 L1151.80 899.91 L1152.53 899.06 L1153.24 898.22 L1153.96 897.37 L1154.67 896.52 L1155.38 895.66 L1156.08 894.81 L1156.79 893.95 L1157.49 893.09 L1158.19 892.23 L1158.88 891.36 L1159.58 890.50 L1160.27 889.63 L1160.97 888.77 L1161.66 887.90 L1162.35 887.03 L1163.04 886.15 L1163.73 885.28 L1164.41 884.41 L1165.10 883.53 L1165.79 882.66 L1166.48 881.78 L1167.16 880.91 L1167.85 880.03 L1168.54 879.16 L1169.23 878.28 L1169.92 877.40 L1170.61 876.53 L1171.30 875.65 L1171.99 874.78 L1172.68 873.90 L1173.38 873.03 L1174.07 872.15 L1174.76 871.28 L1175.46 870.41 L1176.15 869.54 L1176.85 868.67 L1177.54 867.80 L1178.24 866.93 L1178.94 866.06 L1179.64 865.20 L1180.34 864.34 L1181.04 863.47 L1181.74 862.61 L1182.44 861.76 L1183.14 860.90 L1183.84 860.05 L1184.54 859.19 L1185.25 858.35 L1185.95 857.50 L1186.65 856.65 L1187.36 855.81 L1188.08 854.97 L1188.79 854.14 L1189.52 853.30 L1190.25 852.47 L1190.99 851.65 L1191.74 850.83 L1192.50 850.01 L1193.27 849.19 L1194.05 848.38 L1194.85 847.58 L1195.66 846.78 L1196.49 845.98 L1197.34 845.21 L1198.21 844.47 L1199.12 843.79 L1200.05 843.18 L1201.02 842.68 L1202.03 842.29 L1203.07 842.03 L1204.12 841.90 L1205.16 841.93 L1206.17 842.11 L1207.13 842.44 L1208.02 842.95 L1208.85 843.60 L1209.61 844.38 L1210.32 845.26 L1210.97 846.21 L1211.57 847.22 L1212.12 848.26 L1212.64 849.31 L1213.15 850.36 L1213.65 851.38 L1214.19 852.38 L1214.77 853.33 L1215.43 854.23 L1216.17 855.05 L1217.00 855.78 L1217.91 856.39 L1218.87 856.87 L1219.87 857.18 L1220.89 857.31 L1221.91 857.23 L1222.94 856.96 L1223.95 856.55 L1224.94 856.02 L1225.90 855.40 L1226.83 854.73 L1227.71 854.02 L1228.56 853.29 L1229.37 852.52 L1230.16 851.73 L1230.92 850.93 L1231.66 850.11 L1232.39 849.27 L1233.11 848.43 L1233.81 847.58 L1234.52 846.73 L1235.23 845.88 L1235.94 845.04 L1236.67 844.21 L1237.41 843.39 L1238.17 842.58 L1238.95 841.79 L1239.76 841.03 L1240.60 840.29 L1241.48 839.58 L1242.40 838.90 L1243.34 838.27 L1244.32 837.69 L1245.33 837.16 L1246.36 836.69 L1247.40 836.29 L1248.46 835.96 L1249.53 835.72 L1250.60 835.57 L1251.68 835.51 L1252.75 835.56 L1253.81 835.72 L1254.87 835.98 L1255.91 836.35 L1256.92 836.80 L1257.92 837.33 L1258.88 837.92 L1259.81 838.56 L1260.70 839.24 L1261.56 839.96 L1262.40 840.70 L1263.21 841.46 L1264.01 842.24 L1264.80 843.03 L1265.58 843.82 L1266.36 844.61 L1267.15 845.38 L1267.95 846.14 L1268.76 846.89 L1269.58 847.63 L1270.41 848.35 L1271.24 849.07 L1272.09 849.78 L1272.95 850.49 L1273.82 851.19 L1274.70 851.90 L1275.60 852.60 L1276.50 853.28 L1277.42 853.95 L1278.36 854.57 L1279.31 855.14 L1280.29 855.64 L1281.29 856.06 L1282.32 856.39 L1283.38 856.61 L1284.45 856.73 L1285.54 856.77 L1286.65 856.73 L1287.76 856.61 L1288.87 856.43 L1289.98 856.20 L1291.09 855.92 L1292.18 855.60 L1293.26 855.25 L1294.31 854.88 L1295.34 854.50 L1296.33 854.11 L1297.29 853.73" fill="none" stroke="#4F81BD" stroke-width="3.80" stroke-linecap="round" stroke-linejoin="round"/>
<line x1="488.10" y1="113.10" x2="533.70" y2="80.50" stroke="#000" stroke-width="2.00"/>
<line x1="368.50" y1="400.80" x2="410.60" y2="379.60" stroke="#000" stroke-width="2.00"/>
<line x1="647.30" y1="935.00" x2="647.30" y2="978.50" stroke="#000" stroke-width="2.00"/>
<line x1="851.60" y1="247.60" x2="851.80" y2="357.00" stroke="#000" stroke-width="2.00"/>
<line x1="949.50" y1="283.40" x2="975.30" y2="243.80" stroke="#000" stroke-width="2.00"/>
<line x1="1059.00" y1="416.60" x2="1101.70" y2="405.90" stroke="#000" stroke-width="2.00"/>
<line x1="853.40" y1="591.00" x2="855.40" y2="694.00" stroke="#000" stroke-width="2.00"/>
<line x1="1074.20" y1="945.90" x2="1072.50" y2="1067.50" stroke="#000" stroke-width="2.00"/>
<line x1="1219.00" y1="803.60" x2="1219.40" y2="856.60" stroke="#000" stroke-width="2.00"/>
<text transform="matrix(0.9863 0 0 1 534.31 81.34)" font-size="26.13" font-weight="normal" fill="#000">400</text>
<circle cx="581.20" cy="63.40" r="2.55" fill="none" stroke="#000" stroke-width="1.30"/>
<text transform="matrix(0.8964 0 0 1 585.00 81.60)" font-size="30.65" font-weight="normal" fill="#000">C</text>
<text transform="matrix(0.9702 0 0 1 412.52 375.14)" font-size="26.27" font-weight="normal" fill="#000">251</text>
<circle cx="459.35" cy="357.50" r="2.42" fill="none" stroke="#000" stroke-width="1.30"/>
<text transform="matrix(0.8944 0 0 1 463.22 375.40)" font-size="30.37" font-weight="normal" fill="#000">C</text>
<text transform="matrix(0.9873 0 0 1 622.77 930.74)" font-size="26.13" font-weight="normal" fill="#000">540</text>
<circle cx="669.35" cy="912.80" r="2.27" fill="none" stroke="#000" stroke-width="1.30"/>
<text transform="matrix(0.9007 0 0 1 673.84 930.71)" font-size="29.80" font-weight="normal" fill="#000">C</text>
<text transform="matrix(0.9803 0 0 1 831.84 242.74)" font-size="26.27" font-weight="normal" fill="#000">100</text>
<circle cx="878.70" cy="224.45" r="2.62" fill="none" stroke="#000" stroke-width="1.30"/>
<text transform="matrix(0.8788 0 0 1 882.94 242.70)" font-size="30.37" font-weight="normal" fill="#000">C</text>
<text transform="matrix(0.9811 0 0 1 960.20 239.44)" font-size="26.27" font-weight="normal" fill="#000">210</text>
<circle cx="1006.95" cy="221.45" r="2.55" fill="none" stroke="#000" stroke-width="1.30"/>
<text transform="matrix(0.8872 0 0 1 1010.91 239.70)" font-size="30.79" font-weight="normal" fill="#000">C</text>
<text transform="matrix(0.9807 0 0 1 1109.42 414.84)" font-size="26.27" font-weight="normal" fill="#000">310</text>
<circle cx="1156.15" cy="397.00" r="2.47" fill="none" stroke="#000" stroke-width="1.30"/>
<text transform="matrix(0.8944 0 0 1 1160.52 415.10)" font-size="30.37" font-weight="normal" fill="#000">C</text>
<text transform="matrix(0.9930 0 0 1 827.82 587.74)" font-size="26.13" font-weight="normal" fill="#000">100</text>
<circle cx="874.70" cy="569.80" r="2.45" fill="none" stroke="#000" stroke-width="1.30"/>
<text transform="matrix(0.8840 0 0 1 878.84 588.10)" font-size="30.37" font-weight="normal" fill="#000">C</text>
<text transform="matrix(1.0121 0 0 1 1049.71 939.75)" font-size="25.71" font-weight="normal" fill="#000">310</text>
<circle cx="1096.50" cy="922.25" r="2.58" fill="none" stroke="#000" stroke-width="1.30"/>
<text transform="matrix(0.8954 0 0 1 1100.84 940.01)" font-size="29.80" font-weight="normal" fill="#000">C</text>
<text transform="matrix(0.9952 0 0 1 1197.50 799.44)" font-size="26.27" font-weight="normal" fill="#000">450</text>
<circle cx="1244.50" cy="781.30" r="2.45" fill="none" stroke="#000" stroke-width="1.30"/>
<text transform="matrix(0.8718 0 0 1 1248.84 799.70)" font-size="30.79" font-weight="normal" fill="#000">C</text>
<text transform="matrix(0.8774 0 0 1 143.43 151.80)" font-size="26.02" font-weight="normal" fill="#000">PVP</text>
<text transform="matrix(0.8109 0 0 1 125.50 410.43)" font-size="27.54" font-weight="normal" fill="#000">XG</text>
<text transform="matrix(1.0426 0 0 1 116.04 784.30)" font-size="25.29" font-weight="normal" fill="#000">Hydrogel</text>
<text transform="matrix(0.8761 0 0 1 821.44 106.90)" font-size="25.87" font-weight="normal" fill="#000">PVP</text>
<text transform="matrix(0.8506 0 0 1 822.79 463.84)" font-size="26.69" font-weight="normal" fill="#000">XG</text>
<text transform="matrix(1.0528 0 0 1 831.53 809.70)" font-size="25.15" font-weight="normal" fill="#000">Hydrogel</text>
<text transform="matrix(0.9955 0 0 1 101.77 50.90)" font-size="42.88" font-weight="bold" fill="#000">(A)</text>
<text transform="matrix(0.9780 0 0 1 811.20 39.80)" font-size="43.17" font-weight="bold" fill="#000">(B)</text>
<text transform="matrix(1.0411 0 0 1 300.95 1086.91)" font-size="27.91" font-weight="bold" fill="#000">temperature</text>
<circle cx="481.65" cy="1069.75" r="3.00" fill="none" stroke="#000" stroke-width="2.40"/>
<text transform="matrix(0.7838 0 0 1 487.15 1087.31)" font-size="29.66" font-weight="bold" fill="#000">C</text>
<text transform="matrix(1.1628 0 0 1 939.90 1108.74)" font-size="28.26" font-weight="bold" fill="#000">temperature</text>
<circle cx="1147.15" cy="1091.85" r="3.00" fill="none" stroke="#000" stroke-width="2.40"/>
<text transform="matrix(0.9059 0 0 1 1153.61 1109.51)" font-size="29.38" font-weight="bold" fill="#000">C</text>
<text transform="translate(28.90 563.21) rotate(-90) scale(0.8507 1)" font-size="35.45" font-weight="bold" fill="#000">weight loss %</text>
<text transform="translate(697.80 624.42) rotate(-90) scale(0.8240 1)" font-size="34.07" font-weight="bold" fill="#000">weight %</text>
</svg>
</body></html>
